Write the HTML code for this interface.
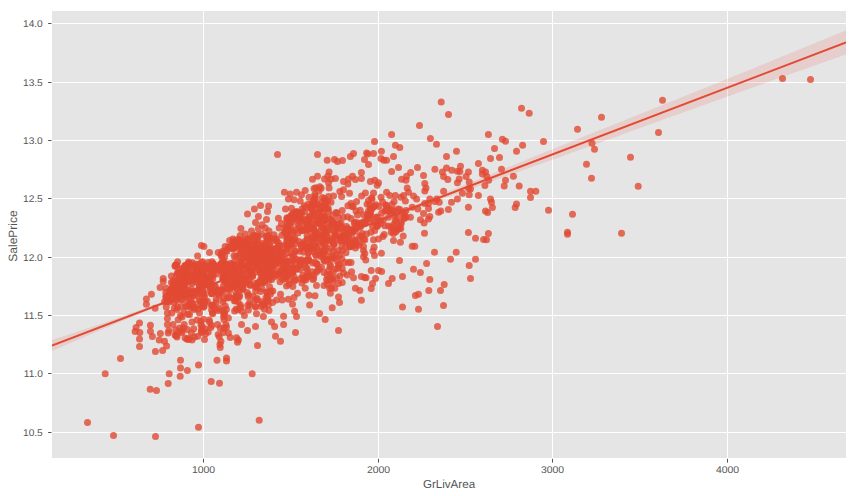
<!DOCTYPE html>
<html><head><meta charset="utf-8"><title>regplot</title>
<style>
html,body{margin:0;padding:0;background:#fff;}
body{width:856px;height:496px;overflow:hidden;font-family:"Liberation Sans",sans-serif;}
svg{display:block}
text{text-rendering:geometricPrecision;font-family:"Liberation Sans",sans-serif;fill:#555}
.t{font-size:9.8px}
.ty{font-size:9.8px}
.ly{font-size:12px}
.l{font-size:11.6px}
.g{stroke:#fff;stroke-width:1}
.k{stroke:#555;stroke-width:1}
</style></head><body>
<svg width="856" height="496" viewBox="0 0 856 496">
<rect x="0" y="0" width="856" height="496" fill="#fff"/>
<rect x="52.0" y="11.0" width="794.0" height="447.0" fill="#e5e5e5"/>
<clipPath id="c"><rect x="52" y="11" width="794" height="447"/></clipPath>
<g class="g"><line x1="203.50" y1="11.0" x2="203.50" y2="458.0"/><line x1="378.50" y1="11.0" x2="378.50" y2="458.0"/><line x1="552.50" y1="11.0" x2="552.50" y2="458.0"/><line x1="727.50" y1="11.0" x2="727.50" y2="458.0"/><line x1="52.0" y1="432.50" x2="846.0" y2="432.50"/><line x1="52.0" y1="373.50" x2="846.0" y2="373.50"/><line x1="52.0" y1="315.50" x2="846.0" y2="315.50"/><line x1="52.0" y1="257.50" x2="846.0" y2="257.50"/><line x1="52.0" y1="198.50" x2="846.0" y2="198.50"/><line x1="52.0" y1="140.50" x2="846.0" y2="140.50"/><line x1="52.0" y1="82.50" x2="846.0" y2="82.50"/><line x1="52.0" y1="23.50" x2="846.0" y2="23.50"/></g>
<g class="k"><line x1="203.50" y1="458.8" x2="203.50" y2="462.6"/><line x1="378.50" y1="458.8" x2="378.50" y2="462.6"/><line x1="552.50" y1="458.8" x2="552.50" y2="462.6"/><line x1="727.50" y1="458.8" x2="727.50" y2="462.6"/><line x1="48.1" y1="432.50" x2="51.5" y2="432.50"/><line x1="48.1" y1="373.50" x2="51.5" y2="373.50"/><line x1="48.1" y1="315.50" x2="51.5" y2="315.50"/><line x1="48.1" y1="257.50" x2="51.5" y2="257.50"/><line x1="48.1" y1="198.50" x2="51.5" y2="198.50"/><line x1="48.1" y1="140.50" x2="51.5" y2="140.50"/><line x1="48.1" y1="82.50" x2="51.5" y2="82.50"/><line x1="48.1" y1="23.50" x2="51.5" y2="23.50"/></g>
<text class="t" transform="translate(203.50,472.8) scale(1.065,1)" text-anchor="middle">1000</text><text class="t" transform="translate(378.50,472.8) scale(1.065,1)" text-anchor="middle">2000</text><text class="t" transform="translate(552.50,472.8) scale(1.065,1)" text-anchor="middle">3000</text><text class="t" transform="translate(727.50,472.8) scale(1.065,1)" text-anchor="middle">4000</text><text class="ty" transform="translate(42.8,435.90) scale(1.04,1)" text-anchor="end">10.5</text><text class="ty" transform="translate(42.8,376.90) scale(1.04,1)" text-anchor="end">11.0</text><text class="ty" transform="translate(42.8,318.90) scale(1.04,1)" text-anchor="end">11.5</text><text class="ty" transform="translate(42.8,260.90) scale(1.04,1)" text-anchor="end">12.0</text><text class="ty" transform="translate(42.8,201.90) scale(1.04,1)" text-anchor="end">12.5</text><text class="ty" transform="translate(42.8,143.90) scale(1.04,1)" text-anchor="end">13.0</text><text class="ty" transform="translate(42.8,85.90) scale(1.04,1)" text-anchor="end">13.5</text><text class="ty" transform="translate(42.8,26.90) scale(1.04,1)" text-anchor="end">14.0</text>
<text class="l" x="449" y="488.2" text-anchor="middle">GrLivArea</text>
<text class="ly" transform="translate(16.5,236) rotate(-90)" text-anchor="middle">SalePrice</text>
<g clip-path="url(#c)"><g class="d" fill="#e24a33" fill-opacity="0.8"><circle cx="87.5" cy="422.5" r="3.5"/><circle cx="113.5" cy="435.5" r="3.5"/><circle cx="155.5" cy="436.5" r="3.5"/><circle cx="198.5" cy="427.2" r="3.5"/><circle cx="259.2" cy="420.2" r="3.5"/><circle cx="150.2" cy="389.2" r="3.5"/><circle cx="156.5" cy="390.5" r="3.5"/><circle cx="168.2" cy="383.5" r="3.5"/><circle cx="180.2" cy="376.2" r="3.5"/><circle cx="211.2" cy="381.5" r="3.5"/><circle cx="219.5" cy="383.2" r="3.5"/><circle cx="105.2" cy="373.8" r="3.5"/><circle cx="169.2" cy="373.8" r="3.5"/><circle cx="252.2" cy="373.8" r="3.5"/><circle cx="180.5" cy="315.6" r="3.5"/><circle cx="176.0" cy="335.6" r="3.5"/><circle cx="201.0" cy="325.0" r="3.5"/><circle cx="201.8" cy="330.0" r="3.5"/><circle cx="187.0" cy="339.0" r="3.5"/><circle cx="139.5" cy="323.1" r="3.5"/><circle cx="136.1" cy="327.5" r="3.5"/><circle cx="135.1" cy="331.6" r="3.5"/><circle cx="139.8" cy="332.5" r="3.5"/><circle cx="139.5" cy="339.0" r="3.5"/><circle cx="139.5" cy="346.6" r="3.5"/><circle cx="120.5" cy="358.4" r="3.5"/><circle cx="150.4" cy="325.2" r="3.5"/><circle cx="150.4" cy="331.2" r="3.5"/><circle cx="152.4" cy="336.5" r="3.5"/><circle cx="160.4" cy="333.4" r="3.5"/><circle cx="159.2" cy="340.0" r="3.5"/><circle cx="164.5" cy="341.2" r="3.5"/><circle cx="166.6" cy="345.9" r="3.5"/><circle cx="162.6" cy="350.4" r="3.5"/><circle cx="155.4" cy="351.5" r="3.5"/><circle cx="167.4" cy="313.1" r="3.5"/><circle cx="171.8" cy="313.1" r="3.5"/><circle cx="167.4" cy="318.5" r="3.5"/><circle cx="167.4" cy="324.4" r="3.5"/><circle cx="168.9" cy="330.6" r="3.5"/><circle cx="168.2" cy="332.9" r="3.5"/><circle cx="180.5" cy="360.2" r="3.5"/><circle cx="180.5" cy="368.1" r="3.5"/><circle cx="187.4" cy="370.6" r="3.5"/><circle cx="198.5" cy="365.0" r="3.5"/><circle cx="175.8" cy="330.0" r="3.5"/><circle cx="179.5" cy="328.1" r="3.5"/><circle cx="184.2" cy="324.4" r="3.5"/><circle cx="182.0" cy="332.5" r="3.5"/><circle cx="175.1" cy="335.0" r="3.5"/><circle cx="177.0" cy="336.9" r="3.5"/><circle cx="185.1" cy="338.1" r="3.5"/><circle cx="188.2" cy="339.4" r="3.5"/><circle cx="192.0" cy="340.0" r="3.5"/><circle cx="194.5" cy="336.9" r="3.5"/><circle cx="191.4" cy="333.1" r="3.5"/><circle cx="192.0" cy="322.1" r="3.5"/><circle cx="197.0" cy="320.0" r="3.5"/><circle cx="200.8" cy="321.2" r="3.5"/><circle cx="202.0" cy="326.2" r="3.5"/><circle cx="201.4" cy="332.5" r="3.5"/><circle cx="204.5" cy="339.4" r="3.5"/><circle cx="205.1" cy="328.8" r="3.5"/><circle cx="209.5" cy="321.9" r="3.5"/><circle cx="210.8" cy="327.5" r="3.5"/><circle cx="208.2" cy="331.9" r="3.5"/><circle cx="182.0" cy="316.9" r="3.5"/><circle cx="183.9" cy="311.9" r="3.5"/><circle cx="189.5" cy="314.4" r="3.5"/><circle cx="199.5" cy="313.1" r="3.5"/><circle cx="212.6" cy="313.8" r="3.5"/><circle cx="217.6" cy="324.4" r="3.5"/><circle cx="218.2" cy="334.4" r="3.5"/><circle cx="217.0" cy="360.2" r="3.5"/><circle cx="155.1" cy="308.2" r="3.5"/><circle cx="224.6" cy="312.8" r="3.5"/><circle cx="222.5" cy="311.0" r="3.5"/><circle cx="228.4" cy="318.1" r="3.5"/><circle cx="224.0" cy="319.4" r="3.5"/><circle cx="225.9" cy="324.4" r="3.5"/><circle cx="226.5" cy="326.9" r="3.5"/><circle cx="220.2" cy="328.1" r="3.5"/><circle cx="223.4" cy="332.5" r="3.5"/><circle cx="228.4" cy="333.1" r="3.5"/><circle cx="230.2" cy="337.5" r="3.5"/><circle cx="220.9" cy="341.2" r="3.5"/><circle cx="220.2" cy="347.5" r="3.5"/><circle cx="234.6" cy="311.0" r="3.5"/><circle cx="242.1" cy="311.2" r="3.5"/><circle cx="244.4" cy="315.6" r="3.5"/><circle cx="248.4" cy="310.0" r="3.5"/><circle cx="241.5" cy="324.4" r="3.5"/><circle cx="247.5" cy="330.4" r="3.5"/><circle cx="255.5" cy="326.5" r="3.5"/><circle cx="256.5" cy="313.8" r="3.5"/><circle cx="263.4" cy="316.5" r="3.5"/><circle cx="236.5" cy="337.8" r="3.5"/><circle cx="238.4" cy="340.0" r="3.5"/><circle cx="237.5" cy="342.2" r="3.5"/><circle cx="257.5" cy="345.4" r="3.5"/><circle cx="226.5" cy="358.1" r="3.5"/><circle cx="226.5" cy="361.0" r="3.5"/><circle cx="271.5" cy="322.1" r="3.5"/><circle cx="274.6" cy="326.5" r="3.5"/><circle cx="283.6" cy="316.2" r="3.5"/><circle cx="283.6" cy="324.4" r="3.5"/><circle cx="275.5" cy="336.2" r="3.5"/><circle cx="280.5" cy="341.2" r="3.5"/><circle cx="295.5" cy="332.5" r="3.5"/><circle cx="296.5" cy="316.5" r="3.5"/><circle cx="294.6" cy="311.2" r="3.5"/><circle cx="269.0" cy="310.6" r="3.5"/><circle cx="319.6" cy="313.5" r="3.5"/><circle cx="325.2" cy="319.4" r="3.5"/><circle cx="338.5" cy="330.4" r="3.5"/><circle cx="434.5" cy="252.2" r="3.5"/><circle cx="456.2" cy="252.2" r="3.5"/><circle cx="450.5" cy="259.2" r="3.5"/><circle cx="475.5" cy="259.2" r="3.5"/><circle cx="469.2" cy="265.5" r="3.5"/><circle cx="429.8" cy="279.5" r="3.5"/><circle cx="470.5" cy="278.5" r="3.5"/><circle cx="444.2" cy="284.5" r="3.5"/><circle cx="440.5" cy="290.5" r="3.5"/><circle cx="428.8" cy="290.5" r="3.5"/><circle cx="443.5" cy="305.5" r="3.5"/><circle cx="437.5" cy="326.5" r="3.5"/><circle cx="151.4" cy="294.2" r="3.5"/><circle cx="146.4" cy="299.0" r="3.5"/><circle cx="146.4" cy="304.2" r="3.5"/><circle cx="160.1" cy="287.4" r="3.5"/><circle cx="163.2" cy="278.6" r="3.5"/><circle cx="163.2" cy="281.5" r="3.5"/><circle cx="165.8" cy="288.0" r="3.5"/><circle cx="165.8" cy="292.4" r="3.5"/><circle cx="171.4" cy="276.1" r="3.5"/><circle cx="171.4" cy="282.4" r="3.5"/><circle cx="177.6" cy="261.8" r="3.5"/><circle cx="177.6" cy="267.4" r="3.5"/><circle cx="177.6" cy="273.0" r="3.5"/><circle cx="188.5" cy="262.0" r="3.5"/><circle cx="185.1" cy="266.1" r="3.5"/><circle cx="188.9" cy="268.0" r="3.5"/><circle cx="197.6" cy="256.1" r="3.5"/><circle cx="196.4" cy="264.2" r="3.5"/><circle cx="202.6" cy="261.8" r="3.5"/><circle cx="209.5" cy="252.4" r="3.5"/><circle cx="218.2" cy="252.4" r="3.5"/><circle cx="208.2" cy="262.4" r="3.5"/><circle cx="212.0" cy="261.8" r="3.5"/><circle cx="164.5" cy="301.8" r="3.5"/><circle cx="167.0" cy="298.0" r="3.5"/><circle cx="309.6" cy="304.9" r="3.5"/><circle cx="309.0" cy="295.2" r="3.5"/><circle cx="315.0" cy="295.8" r="3.5"/><circle cx="305.2" cy="288.2" r="3.5"/><circle cx="316.5" cy="285.5" r="3.5"/><circle cx="324.0" cy="285.5" r="3.5"/><circle cx="297.5" cy="293.2" r="3.5"/><circle cx="294.0" cy="297.4" r="3.5"/><circle cx="288.4" cy="299.2" r="3.5"/><circle cx="292.5" cy="304.2" r="3.5"/><circle cx="282.1" cy="299.9" r="3.5"/><circle cx="276.5" cy="299.9" r="3.5"/><circle cx="272.5" cy="302.4" r="3.5"/><circle cx="280.5" cy="294.2" r="3.5"/><circle cx="272.8" cy="291.1" r="3.5"/><circle cx="292.8" cy="286.5" r="3.5"/><circle cx="286.5" cy="286.1" r="3.5"/><circle cx="289.0" cy="284.2" r="3.5"/><circle cx="280.0" cy="281.8" r="3.5"/><circle cx="277.1" cy="274.2" r="3.5"/><circle cx="294.0" cy="276.8" r="3.5"/><circle cx="304.0" cy="279.9" r="3.5"/><circle cx="306.5" cy="276.8" r="3.5"/><circle cx="314.0" cy="274.9" r="3.5"/><circle cx="317.8" cy="269.9" r="3.5"/><circle cx="324.0" cy="272.4" r="3.5"/><circle cx="312.8" cy="263.0" r="3.5"/><circle cx="306.5" cy="259.9" r="3.5"/><circle cx="324.0" cy="259.2" r="3.5"/><circle cx="222.8" cy="301.8" r="3.5"/><circle cx="225.2" cy="306.1" r="3.5"/><circle cx="234.6" cy="298.0" r="3.5"/><circle cx="399.5" cy="260.5" r="3.5"/><circle cx="426.6" cy="263.4" r="3.5"/><circle cx="413.5" cy="269.2" r="3.5"/><circle cx="420.4" cy="272.4" r="3.5"/><circle cx="402.5" cy="276.5" r="3.5"/><circle cx="392.2" cy="278.4" r="3.5"/><circle cx="388.5" cy="283.4" r="3.5"/><circle cx="418.5" cy="294.2" r="3.5"/><circle cx="415.4" cy="295.5" r="3.5"/><circle cx="402.5" cy="307.0" r="3.5"/><circle cx="418.5" cy="309.2" r="3.5"/><circle cx="381.4" cy="253.2" r="3.5"/><circle cx="374.5" cy="255.5" r="3.5"/><circle cx="372.9" cy="251.1" r="3.5"/><circle cx="363.5" cy="250.5" r="3.5"/><circle cx="364.8" cy="253.6" r="3.5"/><circle cx="363.5" cy="256.8" r="3.5"/><circle cx="365.8" cy="259.9" r="3.5"/><circle cx="355.4" cy="248.0" r="3.5"/><circle cx="371.2" cy="270.5" r="3.5"/><circle cx="378.5" cy="270.5" r="3.5"/><circle cx="381.6" cy="271.5" r="3.5"/><circle cx="375.6" cy="278.4" r="3.5"/><circle cx="372.5" cy="283.4" r="3.5"/><circle cx="371.2" cy="288.6" r="3.5"/><circle cx="361.4" cy="276.5" r="3.5"/><circle cx="364.8" cy="277.4" r="3.5"/><circle cx="366.0" cy="277.8" r="3.5"/><circle cx="355.4" cy="288.2" r="3.5"/><circle cx="359.8" cy="290.5" r="3.5"/><circle cx="361.4" cy="300.2" r="3.5"/><circle cx="346.0" cy="252.8" r="3.5"/><circle cx="342.2" cy="250.5" r="3.5"/><circle cx="338.5" cy="250.5" r="3.5"/><circle cx="333.5" cy="251.1" r="3.5"/><circle cx="328.5" cy="251.8" r="3.5"/><circle cx="339.8" cy="255.5" r="3.5"/><circle cx="334.8" cy="258.0" r="3.5"/><circle cx="331.0" cy="259.2" r="3.5"/><circle cx="337.2" cy="261.1" r="3.5"/><circle cx="344.8" cy="262.4" r="3.5"/><circle cx="348.5" cy="262.4" r="3.5"/><circle cx="351.0" cy="262.4" r="3.5"/><circle cx="330.4" cy="264.9" r="3.5"/><circle cx="342.2" cy="268.6" r="3.5"/><circle cx="351.6" cy="271.8" r="3.5"/><circle cx="353.5" cy="277.8" r="3.5"/><circle cx="347.2" cy="274.9" r="3.5"/><circle cx="343.5" cy="273.0" r="3.5"/><circle cx="339.8" cy="276.1" r="3.5"/><circle cx="336.6" cy="278.0" r="3.5"/><circle cx="342.2" cy="282.4" r="3.5"/><circle cx="338.5" cy="283.6" r="3.5"/><circle cx="328.5" cy="270.5" r="3.5"/><circle cx="327.2" cy="274.9" r="3.5"/><circle cx="330.4" cy="274.2" r="3.5"/><circle cx="327.9" cy="280.5" r="3.5"/><circle cx="327.2" cy="284.2" r="3.5"/><circle cx="331.6" cy="288.0" r="3.5"/><circle cx="334.8" cy="288.2" r="3.5"/><circle cx="330.4" cy="293.2" r="3.5"/><circle cx="338.5" cy="297.0" r="3.5"/><circle cx="339.5" cy="302.4" r="3.5"/><circle cx="332.2" cy="307.8" r="3.5"/><circle cx="201.4" cy="245.4" r="3.5"/><circle cx="203.9" cy="246.6" r="3.5"/><circle cx="247.5" cy="214.1" r="3.5"/><circle cx="254.4" cy="209.1" r="3.5"/><circle cx="260.5" cy="205.4" r="3.5"/><circle cx="268.6" cy="206.0" r="3.5"/><circle cx="267.5" cy="211.6" r="3.5"/><circle cx="258.4" cy="216.4" r="3.5"/><circle cx="266.5" cy="219.5" r="3.5"/><circle cx="255.5" cy="222.5" r="3.5"/><circle cx="262.1" cy="224.8" r="3.5"/><circle cx="258.4" cy="228.5" r="3.5"/><circle cx="265.2" cy="227.9" r="3.5"/><circle cx="269.0" cy="231.0" r="3.5"/><circle cx="251.5" cy="231.0" r="3.5"/><circle cx="240.9" cy="228.5" r="3.5"/><circle cx="240.2" cy="235.4" r="3.5"/><circle cx="245.2" cy="234.1" r="3.5"/><circle cx="229.6" cy="240.4" r="3.5"/><circle cx="232.8" cy="239.1" r="3.5"/><circle cx="225.2" cy="246.6" r="3.5"/><circle cx="278.4" cy="218.2" r="3.5"/><circle cx="281.5" cy="223.5" r="3.5"/><circle cx="279.2" cy="227.9" r="3.5"/><circle cx="285.2" cy="232.2" r="3.5"/><circle cx="274.0" cy="234.8" r="3.5"/><circle cx="284.4" cy="192.2" r="3.5"/><circle cx="290.2" cy="194.1" r="3.5"/><circle cx="296.5" cy="192.2" r="3.5"/><circle cx="288.4" cy="199.1" r="3.5"/><circle cx="294.0" cy="199.8" r="3.5"/><circle cx="301.5" cy="194.8" r="3.5"/><circle cx="305.2" cy="190.4" r="3.5"/><circle cx="300.2" cy="201.0" r="3.5"/><circle cx="285.5" cy="209.1" r="3.5"/><circle cx="291.5" cy="208.2" r="3.5"/><circle cx="302.1" cy="209.1" r="3.5"/><circle cx="296.5" cy="211.6" r="3.5"/><circle cx="314.0" cy="188.5" r="3.5"/><circle cx="319.0" cy="191.0" r="3.5"/><circle cx="315.2" cy="196.0" r="3.5"/><circle cx="309.0" cy="197.2" r="3.5"/><circle cx="308.4" cy="204.1" r="3.5"/><circle cx="324.6" cy="198.5" r="3.5"/><circle cx="364.8" cy="223.5" r="3.5"/><circle cx="367.2" cy="219.8" r="3.5"/><circle cx="369.1" cy="216.0" r="3.5"/><circle cx="370.4" cy="212.2" r="3.5"/><circle cx="372.2" cy="208.5" r="3.5"/><circle cx="374.1" cy="206.0" r="3.5"/><circle cx="366.0" cy="221.6" r="3.5"/><circle cx="369.8" cy="214.1" r="3.5"/><circle cx="391.0" cy="227.2" r="3.5"/><circle cx="396.0" cy="229.8" r="3.5"/><circle cx="398.5" cy="227.2" r="3.5"/><circle cx="393.5" cy="224.8" r="3.5"/><circle cx="384.8" cy="211.0" r="3.5"/><circle cx="391.0" cy="212.9" r="3.5"/><circle cx="394.8" cy="215.4" r="3.5"/><circle cx="388.5" cy="217.2" r="3.5"/><circle cx="383.5" cy="219.8" r="3.5"/><circle cx="381.0" cy="223.5" r="3.5"/><circle cx="329.1" cy="187.9" r="3.5"/><circle cx="339.8" cy="191.6" r="3.5"/><circle cx="343.5" cy="189.8" r="3.5"/><circle cx="349.5" cy="193.2" r="3.5"/><circle cx="341.6" cy="196.6" r="3.5"/><circle cx="333.5" cy="196.0" r="3.5"/><circle cx="328.5" cy="196.6" r="3.5"/><circle cx="331.0" cy="202.2" r="3.5"/><circle cx="327.9" cy="201.0" r="3.5"/><circle cx="361.6" cy="196.0" r="3.5"/><circle cx="365.4" cy="192.9" r="3.5"/><circle cx="373.5" cy="192.9" r="3.5"/><circle cx="371.6" cy="197.9" r="3.5"/><circle cx="368.5" cy="200.4" r="3.5"/><circle cx="356.6" cy="201.6" r="3.5"/><circle cx="351.0" cy="203.5" r="3.5"/><circle cx="352.2" cy="206.6" r="3.5"/><circle cx="381.0" cy="197.2" r="3.5"/><circle cx="386.6" cy="192.2" r="3.5"/><circle cx="389.8" cy="195.4" r="3.5"/><circle cx="395.4" cy="195.4" r="3.5"/><circle cx="394.1" cy="201.6" r="3.5"/><circle cx="401.0" cy="197.2" r="3.5"/><circle cx="403.5" cy="195.4" r="3.5"/><circle cx="405.4" cy="201.0" r="3.5"/><circle cx="407.2" cy="187.9" r="3.5"/><circle cx="408.5" cy="192.2" r="3.5"/><circle cx="413.5" cy="196.0" r="3.5"/><circle cx="416.6" cy="199.1" r="3.5"/><circle cx="424.8" cy="191.0" r="3.5"/><circle cx="426.0" cy="187.9" r="3.5"/><circle cx="429.8" cy="199.1" r="3.5"/><circle cx="386.0" cy="205.4" r="3.5"/><circle cx="388.5" cy="208.5" r="3.5"/><circle cx="381.6" cy="212.9" r="3.5"/><circle cx="394.1" cy="211.0" r="3.5"/><circle cx="397.9" cy="209.1" r="3.5"/><circle cx="402.2" cy="212.2" r="3.5"/><circle cx="406.0" cy="210.4" r="3.5"/><circle cx="412.2" cy="207.2" r="3.5"/><circle cx="417.9" cy="209.1" r="3.5"/><circle cx="424.8" cy="203.5" r="3.5"/><circle cx="428.5" cy="203.5" r="3.5"/><circle cx="428.5" cy="208.5" r="3.5"/><circle cx="423.5" cy="213.5" r="3.5"/><circle cx="429.8" cy="216.6" r="3.5"/><circle cx="420.4" cy="219.8" r="3.5"/><circle cx="424.1" cy="222.9" r="3.5"/><circle cx="428.5" cy="219.1" r="3.5"/><circle cx="406.0" cy="217.2" r="3.5"/><circle cx="410.4" cy="217.2" r="3.5"/><circle cx="401.0" cy="224.1" r="3.5"/><circle cx="396.0" cy="222.2" r="3.5"/><circle cx="369.8" cy="204.8" r="3.5"/><circle cx="376.0" cy="204.8" r="3.5"/><circle cx="368.5" cy="211.0" r="3.5"/><circle cx="371.0" cy="208.5" r="3.5"/><circle cx="363.5" cy="214.8" r="3.5"/><circle cx="367.2" cy="216.0" r="3.5"/><circle cx="376.0" cy="217.2" r="3.5"/><circle cx="379.8" cy="221.0" r="3.5"/><circle cx="373.5" cy="222.2" r="3.5"/><circle cx="356.0" cy="211.0" r="3.5"/><circle cx="351.0" cy="218.5" r="3.5"/><circle cx="354.8" cy="222.2" r="3.5"/><circle cx="342.2" cy="210.4" r="3.5"/><circle cx="337.2" cy="212.9" r="3.5"/><circle cx="338.5" cy="217.2" r="3.5"/><circle cx="343.5" cy="217.2" r="3.5"/><circle cx="328.5" cy="211.6" r="3.5"/><circle cx="327.9" cy="217.9" r="3.5"/><circle cx="332.2" cy="220.4" r="3.5"/><circle cx="388.5" cy="226.0" r="3.5"/><circle cx="393.5" cy="228.5" r="3.5"/><circle cx="397.2" cy="229.8" r="3.5"/><circle cx="393.5" cy="233.5" r="3.5"/><circle cx="403.2" cy="236.0" r="3.5"/><circle cx="393.5" cy="240.4" r="3.5"/><circle cx="400.4" cy="242.2" r="3.5"/><circle cx="412.2" cy="246.2" r="3.5"/><circle cx="414.8" cy="246.2" r="3.5"/><circle cx="424.5" cy="233.2" r="3.5"/><circle cx="374.8" cy="230.4" r="3.5"/><circle cx="371.0" cy="232.2" r="3.5"/><circle cx="382.9" cy="236.6" r="3.5"/><circle cx="378.5" cy="239.1" r="3.5"/><circle cx="373.5" cy="239.8" r="3.5"/><circle cx="363.5" cy="246.6" r="3.5"/><circle cx="374.1" cy="247.2" r="3.5"/><circle cx="364.8" cy="239.8" r="3.5"/><circle cx="443.6" cy="191.2" r="3.5"/><circle cx="436.8" cy="199.1" r="3.5"/><circle cx="434.9" cy="201.6" r="3.5"/><circle cx="439.2" cy="202.2" r="3.5"/><circle cx="451.5" cy="202.2" r="3.5"/><circle cx="457.4" cy="199.1" r="3.5"/><circle cx="462.4" cy="193.2" r="3.5"/><circle cx="469.2" cy="194.8" r="3.5"/><circle cx="470.5" cy="189.1" r="3.5"/><circle cx="468.6" cy="188.5" r="3.5"/><circle cx="478.4" cy="195.4" r="3.5"/><circle cx="484.9" cy="185.4" r="3.5"/><circle cx="504.2" cy="186.0" r="3.5"/><circle cx="519.2" cy="186.0" r="3.5"/><circle cx="530.5" cy="191.2" r="3.5"/><circle cx="535.8" cy="191.2" r="3.5"/><circle cx="530.5" cy="197.5" r="3.5"/><circle cx="438.6" cy="212.2" r="3.5"/><circle cx="440.8" cy="211.0" r="3.5"/><circle cx="448.4" cy="209.4" r="3.5"/><circle cx="468.4" cy="207.2" r="3.5"/><circle cx="490.5" cy="199.1" r="3.5"/><circle cx="491.5" cy="202.2" r="3.5"/><circle cx="492.4" cy="207.5" r="3.5"/><circle cx="485.5" cy="211.0" r="3.5"/><circle cx="487.6" cy="212.5" r="3.5"/><circle cx="516.5" cy="204.1" r="3.5"/><circle cx="515.2" cy="207.5" r="3.5"/><circle cx="468.4" cy="232.5" r="3.5"/><circle cx="475.5" cy="238.2" r="3.5"/><circle cx="483.6" cy="239.5" r="3.5"/><circle cx="486.5" cy="239.8" r="3.5"/><circle cx="488.4" cy="233.5" r="3.5"/><circle cx="277.5" cy="154.4" r="3.5"/><circle cx="317.5" cy="154.4" r="3.5"/><circle cx="312.5" cy="179.2" r="3.5"/><circle cx="317.5" cy="176.2" r="3.5"/><circle cx="324.6" cy="179.0" r="3.5"/><circle cx="419.5" cy="125.5" r="3.5"/><circle cx="391.6" cy="134.4" r="3.5"/><circle cx="430.4" cy="138.4" r="3.5"/><circle cx="374.5" cy="141.5" r="3.5"/><circle cx="395.4" cy="145.2" r="3.5"/><circle cx="399.8" cy="147.5" r="3.5"/><circle cx="381.4" cy="151.2" r="3.5"/><circle cx="373.5" cy="153.4" r="3.5"/><circle cx="366.6" cy="153.0" r="3.5"/><circle cx="367.9" cy="154.0" r="3.5"/><circle cx="353.5" cy="153.4" r="3.5"/><circle cx="350.4" cy="156.5" r="3.5"/><circle cx="364.5" cy="159.6" r="3.5"/><circle cx="368.5" cy="164.6" r="3.5"/><circle cx="393.5" cy="156.5" r="3.5"/><circle cx="381.0" cy="158.4" r="3.5"/><circle cx="383.8" cy="160.2" r="3.5"/><circle cx="386.6" cy="160.2" r="3.5"/><circle cx="334.5" cy="159.4" r="3.5"/><circle cx="337.5" cy="161.5" r="3.5"/><circle cx="342.5" cy="160.5" r="3.5"/><circle cx="327.2" cy="160.2" r="3.5"/><circle cx="398.5" cy="167.5" r="3.5"/><circle cx="391.6" cy="171.5" r="3.5"/><circle cx="417.5" cy="167.5" r="3.5"/><circle cx="410.6" cy="172.5" r="3.5"/><circle cx="406.6" cy="176.2" r="3.5"/><circle cx="401.6" cy="179.2" r="3.5"/><circle cx="406.0" cy="180.2" r="3.5"/><circle cx="423.5" cy="175.5" r="3.5"/><circle cx="424.8" cy="183.4" r="3.5"/><circle cx="361.4" cy="172.4" r="3.5"/><circle cx="361.4" cy="178.4" r="3.5"/><circle cx="352.5" cy="176.2" r="3.5"/><circle cx="355.4" cy="179.6" r="3.5"/><circle cx="348.5" cy="179.0" r="3.5"/><circle cx="343.5" cy="181.5" r="3.5"/><circle cx="347.9" cy="184.0" r="3.5"/><circle cx="329.1" cy="172.1" r="3.5"/><circle cx="327.9" cy="175.9" r="3.5"/><circle cx="331.0" cy="179.0" r="3.5"/><circle cx="335.4" cy="178.4" r="3.5"/><circle cx="328.5" cy="182.8" r="3.5"/><circle cx="370.4" cy="181.5" r="3.5"/><circle cx="374.8" cy="180.2" r="3.5"/><circle cx="378.5" cy="182.8" r="3.5"/><circle cx="377.2" cy="185.2" r="3.5"/><circle cx="488.4" cy="134.4" r="3.5"/><circle cx="502.4" cy="139.2" r="3.5"/><circle cx="505.5" cy="141.2" r="3.5"/><circle cx="522.6" cy="145.2" r="3.5"/><circle cx="516.5" cy="151.2" r="3.5"/><circle cx="494.5" cy="148.4" r="3.5"/><circle cx="490.5" cy="158.4" r="3.5"/><circle cx="499.5" cy="157.5" r="3.5"/><circle cx="436.5" cy="144.2" r="3.5"/><circle cx="456.5" cy="151.2" r="3.5"/><circle cx="446.5" cy="156.5" r="3.5"/><circle cx="478.4" cy="163.4" r="3.5"/><circle cx="501.5" cy="169.2" r="3.5"/><circle cx="513.4" cy="176.2" r="3.5"/><circle cx="505.5" cy="180.2" r="3.5"/><circle cx="434.9" cy="169.2" r="3.5"/><circle cx="446.5" cy="168.0" r="3.5"/><circle cx="442.4" cy="172.1" r="3.5"/><circle cx="451.8" cy="170.2" r="3.5"/><circle cx="443.6" cy="176.5" r="3.5"/><circle cx="447.8" cy="179.6" r="3.5"/><circle cx="460.5" cy="166.2" r="3.5"/><circle cx="457.4" cy="171.2" r="3.5"/><circle cx="459.9" cy="171.5" r="3.5"/><circle cx="468.4" cy="172.1" r="3.5"/><circle cx="466.1" cy="176.5" r="3.5"/><circle cx="459.2" cy="179.0" r="3.5"/><circle cx="457.4" cy="182.8" r="3.5"/><circle cx="469.2" cy="182.1" r="3.5"/><circle cx="482.4" cy="170.2" r="3.5"/><circle cx="485.5" cy="172.1" r="3.5"/><circle cx="482.4" cy="174.0" r="3.5"/><circle cx="486.8" cy="176.5" r="3.5"/><circle cx="488.6" cy="180.2" r="3.5"/><circle cx="441.2" cy="102.0" r="3.5"/><circle cx="448.5" cy="114.5" r="3.5"/><circle cx="521.5" cy="108.2" r="3.5"/><circle cx="529.2" cy="113.2" r="3.5"/><circle cx="662.5" cy="100.2" r="3.5"/><circle cx="601.5" cy="117.2" r="3.5"/><circle cx="577.5" cy="129.2" r="3.5"/><circle cx="543.5" cy="141.5" r="3.5"/><circle cx="592.0" cy="143.2" r="3.5"/><circle cx="594.5" cy="149.2" r="3.5"/><circle cx="658.5" cy="132.5" r="3.5"/><circle cx="630.5" cy="157.2" r="3.5"/><circle cx="586.5" cy="164.2" r="3.5"/><circle cx="591.5" cy="178.2" r="3.5"/><circle cx="638.2" cy="186.2" r="3.5"/><circle cx="548.5" cy="210.2" r="3.5"/><circle cx="572.5" cy="214.2" r="3.5"/><circle cx="567.5" cy="232.2" r="3.5"/><circle cx="567.5" cy="234.2" r="3.5"/><circle cx="621.5" cy="233.2" r="3.5"/><circle cx="782.5" cy="78.5" r="3.5"/><circle cx="810.5" cy="79.5" r="3.5"/><circle cx="211.4" cy="284.5" r="3.5"/><circle cx="198.6" cy="283.4" r="3.5"/><circle cx="239.7" cy="244.2" r="3.5"/><circle cx="252.3" cy="271.6" r="3.5"/><circle cx="210.7" cy="277.5" r="3.5"/><circle cx="249.0" cy="258.9" r="3.5"/><circle cx="241.3" cy="261.0" r="3.5"/><circle cx="228.6" cy="247.1" r="3.5"/><circle cx="216.9" cy="268.1" r="3.5"/><circle cx="207.1" cy="268.5" r="3.5"/><circle cx="269.8" cy="270.7" r="3.5"/><circle cx="221.5" cy="263.4" r="3.5"/><circle cx="263.9" cy="279.8" r="3.5"/><circle cx="261.1" cy="281.6" r="3.5"/><circle cx="175.9" cy="265.1" r="3.5"/><circle cx="167.1" cy="297.0" r="3.5"/><circle cx="259.9" cy="271.3" r="3.5"/><circle cx="183.0" cy="279.0" r="3.5"/><circle cx="223.4" cy="279.7" r="3.5"/><circle cx="258.7" cy="282.4" r="3.5"/><circle cx="193.1" cy="270.9" r="3.5"/><circle cx="270.2" cy="246.2" r="3.5"/><circle cx="270.0" cy="237.8" r="3.5"/><circle cx="257.4" cy="249.4" r="3.5"/><circle cx="236.7" cy="281.8" r="3.5"/><circle cx="265.0" cy="280.0" r="3.5"/><circle cx="247.4" cy="249.3" r="3.5"/><circle cx="184.2" cy="280.7" r="3.5"/><circle cx="201.2" cy="281.9" r="3.5"/><circle cx="271.9" cy="241.0" r="3.5"/><circle cx="264.5" cy="282.5" r="3.5"/><circle cx="180.7" cy="284.5" r="3.5"/><circle cx="272.8" cy="267.4" r="3.5"/><circle cx="271.8" cy="266.6" r="3.5"/><circle cx="179.0" cy="292.9" r="3.5"/><circle cx="244.6" cy="257.2" r="3.5"/><circle cx="225.9" cy="280.2" r="3.5"/><circle cx="249.8" cy="252.3" r="3.5"/><circle cx="226.6" cy="277.8" r="3.5"/><circle cx="265.3" cy="245.8" r="3.5"/><circle cx="221.1" cy="271.0" r="3.5"/><circle cx="181.6" cy="273.3" r="3.5"/><circle cx="181.0" cy="293.8" r="3.5"/><circle cx="227.6" cy="271.7" r="3.5"/><circle cx="240.5" cy="244.0" r="3.5"/><circle cx="172.5" cy="295.8" r="3.5"/><circle cx="234.6" cy="282.0" r="3.5"/><circle cx="173.8" cy="287.5" r="3.5"/><circle cx="171.9" cy="288.1" r="3.5"/><circle cx="245.5" cy="256.7" r="3.5"/><circle cx="255.0" cy="244.6" r="3.5"/><circle cx="202.4" cy="285.1" r="3.5"/><circle cx="242.6" cy="265.2" r="3.5"/><circle cx="173.8" cy="286.0" r="3.5"/><circle cx="260.7" cy="268.7" r="3.5"/><circle cx="272.0" cy="256.3" r="3.5"/><circle cx="247.4" cy="267.4" r="3.5"/><circle cx="244.5" cy="266.0" r="3.5"/><circle cx="263.1" cy="264.4" r="3.5"/><circle cx="245.6" cy="283.0" r="3.5"/><circle cx="240.0" cy="271.0" r="3.5"/><circle cx="176.1" cy="285.4" r="3.5"/><circle cx="226.2" cy="264.4" r="3.5"/><circle cx="233.7" cy="269.7" r="3.5"/><circle cx="252.6" cy="276.6" r="3.5"/><circle cx="217.4" cy="270.1" r="3.5"/><circle cx="249.3" cy="263.3" r="3.5"/><circle cx="238.8" cy="270.9" r="3.5"/><circle cx="255.1" cy="252.4" r="3.5"/><circle cx="262.5" cy="272.0" r="3.5"/><circle cx="190.1" cy="291.7" r="3.5"/><circle cx="199.4" cy="285.9" r="3.5"/><circle cx="266.9" cy="273.0" r="3.5"/><circle cx="274.9" cy="260.5" r="3.5"/><circle cx="175.7" cy="285.3" r="3.5"/><circle cx="262.2" cy="283.0" r="3.5"/><circle cx="268.4" cy="256.5" r="3.5"/><circle cx="245.4" cy="246.5" r="3.5"/><circle cx="247.7" cy="266.1" r="3.5"/><circle cx="197.4" cy="275.6" r="3.5"/><circle cx="187.5" cy="292.5" r="3.5"/><circle cx="247.3" cy="242.7" r="3.5"/><circle cx="220.1" cy="264.6" r="3.5"/><circle cx="263.5" cy="248.8" r="3.5"/><circle cx="222.2" cy="269.9" r="3.5"/><circle cx="268.5" cy="273.9" r="3.5"/><circle cx="236.0" cy="278.2" r="3.5"/><circle cx="190.2" cy="293.9" r="3.5"/><circle cx="234.8" cy="271.6" r="3.5"/><circle cx="222.5" cy="259.9" r="3.5"/><circle cx="270.5" cy="266.1" r="3.5"/><circle cx="262.2" cy="249.0" r="3.5"/><circle cx="270.6" cy="272.2" r="3.5"/><circle cx="219.6" cy="269.1" r="3.5"/><circle cx="252.6" cy="275.7" r="3.5"/><circle cx="189.0" cy="277.8" r="3.5"/><circle cx="185.0" cy="295.5" r="3.5"/><circle cx="237.9" cy="239.2" r="3.5"/><circle cx="203.9" cy="284.0" r="3.5"/><circle cx="255.3" cy="244.7" r="3.5"/><circle cx="209.9" cy="283.0" r="3.5"/><circle cx="270.3" cy="263.3" r="3.5"/><circle cx="193.5" cy="273.4" r="3.5"/><circle cx="265.8" cy="265.0" r="3.5"/><circle cx="186.3" cy="277.0" r="3.5"/><circle cx="242.9" cy="246.1" r="3.5"/><circle cx="233.0" cy="269.1" r="3.5"/><circle cx="181.4" cy="290.3" r="3.5"/><circle cx="253.8" cy="267.0" r="3.5"/><circle cx="272.0" cy="259.9" r="3.5"/><circle cx="267.3" cy="238.6" r="3.5"/><circle cx="260.2" cy="246.4" r="3.5"/><circle cx="193.2" cy="279.6" r="3.5"/><circle cx="230.4" cy="263.6" r="3.5"/><circle cx="252.4" cy="256.4" r="3.5"/><circle cx="182.6" cy="271.2" r="3.5"/><circle cx="211.3" cy="283.9" r="3.5"/><circle cx="266.8" cy="240.2" r="3.5"/><circle cx="264.4" cy="263.7" r="3.5"/><circle cx="211.5" cy="267.5" r="3.5"/><circle cx="248.9" cy="279.8" r="3.5"/><circle cx="245.5" cy="279.5" r="3.5"/><circle cx="245.4" cy="283.3" r="3.5"/><circle cx="182.3" cy="295.6" r="3.5"/><circle cx="183.1" cy="280.3" r="3.5"/><circle cx="261.0" cy="257.1" r="3.5"/><circle cx="234.1" cy="240.8" r="3.5"/><circle cx="274.0" cy="259.3" r="3.5"/><circle cx="204.3" cy="278.2" r="3.5"/><circle cx="229.2" cy="268.0" r="3.5"/><circle cx="232.6" cy="244.7" r="3.5"/><circle cx="233.4" cy="249.0" r="3.5"/><circle cx="179.4" cy="295.6" r="3.5"/><circle cx="175.1" cy="265.5" r="3.5"/><circle cx="260.8" cy="280.0" r="3.5"/><circle cx="235.8" cy="245.8" r="3.5"/><circle cx="268.1" cy="275.1" r="3.5"/><circle cx="192.0" cy="292.3" r="3.5"/><circle cx="220.5" cy="265.8" r="3.5"/><circle cx="169.9" cy="290.8" r="3.5"/><circle cx="251.0" cy="273.3" r="3.5"/><circle cx="246.8" cy="248.0" r="3.5"/><circle cx="246.5" cy="246.7" r="3.5"/><circle cx="201.6" cy="276.7" r="3.5"/><circle cx="251.6" cy="253.8" r="3.5"/><circle cx="193.8" cy="265.8" r="3.5"/><circle cx="261.8" cy="234.2" r="3.5"/><circle cx="190.9" cy="292.7" r="3.5"/><circle cx="234.2" cy="271.0" r="3.5"/><circle cx="212.8" cy="274.2" r="3.5"/><circle cx="187.9" cy="263.9" r="3.5"/><circle cx="173.1" cy="293.0" r="3.5"/><circle cx="176.3" cy="294.8" r="3.5"/><circle cx="241.0" cy="265.0" r="3.5"/><circle cx="241.5" cy="275.4" r="3.5"/><circle cx="204.7" cy="283.6" r="3.5"/><circle cx="171.8" cy="288.6" r="3.5"/><circle cx="258.2" cy="283.0" r="3.5"/><circle cx="195.7" cy="273.3" r="3.5"/><circle cx="271.0" cy="251.9" r="3.5"/><circle cx="258.6" cy="263.4" r="3.5"/><circle cx="212.7" cy="279.1" r="3.5"/><circle cx="202.8" cy="272.2" r="3.5"/><circle cx="202.9" cy="285.0" r="3.5"/><circle cx="241.8" cy="251.3" r="3.5"/><circle cx="176.6" cy="265.3" r="3.5"/><circle cx="173.4" cy="280.6" r="3.5"/><circle cx="241.5" cy="280.5" r="3.5"/><circle cx="264.1" cy="251.6" r="3.5"/><circle cx="223.2" cy="277.2" r="3.5"/><circle cx="247.7" cy="266.3" r="3.5"/><circle cx="181.7" cy="286.2" r="3.5"/><circle cx="237.7" cy="275.9" r="3.5"/><circle cx="250.0" cy="259.5" r="3.5"/><circle cx="272.3" cy="274.6" r="3.5"/><circle cx="175.7" cy="298.2" r="3.5"/><circle cx="245.5" cy="244.9" r="3.5"/><circle cx="186.2" cy="265.4" r="3.5"/><circle cx="208.6" cy="280.9" r="3.5"/><circle cx="241.1" cy="251.5" r="3.5"/><circle cx="234.4" cy="247.8" r="3.5"/><circle cx="209.2" cy="275.8" r="3.5"/><circle cx="264.8" cy="244.4" r="3.5"/><circle cx="227.9" cy="276.7" r="3.5"/><circle cx="250.0" cy="271.7" r="3.5"/><circle cx="258.7" cy="269.6" r="3.5"/><circle cx="235.4" cy="246.8" r="3.5"/><circle cx="199.1" cy="264.5" r="3.5"/><circle cx="251.0" cy="273.0" r="3.5"/><circle cx="233.2" cy="242.3" r="3.5"/><circle cx="184.7" cy="267.1" r="3.5"/><circle cx="250.5" cy="240.3" r="3.5"/><circle cx="182.3" cy="280.0" r="3.5"/><circle cx="268.4" cy="253.4" r="3.5"/><circle cx="224.3" cy="273.4" r="3.5"/><circle cx="221.1" cy="265.6" r="3.5"/><circle cx="256.1" cy="253.7" r="3.5"/><circle cx="187.7" cy="270.1" r="3.5"/><circle cx="207.9" cy="278.0" r="3.5"/><circle cx="211.0" cy="271.5" r="3.5"/><circle cx="189.3" cy="275.9" r="3.5"/><circle cx="268.4" cy="254.2" r="3.5"/><circle cx="188.7" cy="282.0" r="3.5"/><circle cx="178.8" cy="279.4" r="3.5"/><circle cx="254.0" cy="265.1" r="3.5"/><circle cx="203.5" cy="265.5" r="3.5"/><circle cx="255.0" cy="283.4" r="3.5"/><circle cx="256.6" cy="236.8" r="3.5"/><circle cx="211.8" cy="265.4" r="3.5"/><circle cx="264.6" cy="280.2" r="3.5"/><circle cx="180.0" cy="285.0" r="3.5"/><circle cx="165.8" cy="297.1" r="3.5"/><circle cx="190.3" cy="279.4" r="3.5"/><circle cx="264.4" cy="281.0" r="3.5"/><circle cx="183.1" cy="291.0" r="3.5"/><circle cx="231.7" cy="279.9" r="3.5"/><circle cx="186.3" cy="271.0" r="3.5"/><circle cx="223.2" cy="275.9" r="3.5"/><circle cx="234.9" cy="265.2" r="3.5"/><circle cx="243.9" cy="264.2" r="3.5"/><circle cx="201.9" cy="288.0" r="3.5"/><circle cx="222.6" cy="278.8" r="3.5"/><circle cx="256.0" cy="241.8" r="3.5"/><circle cx="236.8" cy="281.0" r="3.5"/><circle cx="234.6" cy="280.2" r="3.5"/><circle cx="262.4" cy="256.1" r="3.5"/><circle cx="266.3" cy="262.5" r="3.5"/><circle cx="237.2" cy="280.7" r="3.5"/><circle cx="265.0" cy="262.8" r="3.5"/><circle cx="232.6" cy="264.3" r="3.5"/><circle cx="241.5" cy="261.2" r="3.5"/><circle cx="238.2" cy="247.2" r="3.5"/><circle cx="254.0" cy="259.1" r="3.5"/><circle cx="266.0" cy="246.1" r="3.5"/><circle cx="272.9" cy="249.0" r="3.5"/><circle cx="174.2" cy="288.8" r="3.5"/><circle cx="234.0" cy="272.6" r="3.5"/><circle cx="198.9" cy="274.7" r="3.5"/><circle cx="182.8" cy="288.0" r="3.5"/><circle cx="213.0" cy="269.4" r="3.5"/><circle cx="180.5" cy="281.5" r="3.5"/><circle cx="204.6" cy="266.1" r="3.5"/><circle cx="234.1" cy="243.2" r="3.5"/><circle cx="207.1" cy="280.4" r="3.5"/><circle cx="268.9" cy="280.2" r="3.5"/><circle cx="171.2" cy="299.4" r="3.5"/><circle cx="201.2" cy="262.2" r="3.5"/><circle cx="206.1" cy="270.2" r="3.5"/><circle cx="258.6" cy="282.5" r="3.5"/><circle cx="225.7" cy="281.5" r="3.5"/><circle cx="186.6" cy="276.8" r="3.5"/><circle cx="231.6" cy="269.4" r="3.5"/><circle cx="192.6" cy="276.9" r="3.5"/><circle cx="252.0" cy="247.4" r="3.5"/><circle cx="174.2" cy="282.5" r="3.5"/><circle cx="262.3" cy="253.7" r="3.5"/><circle cx="184.5" cy="271.8" r="3.5"/><circle cx="274.7" cy="238.8" r="3.5"/><circle cx="176.2" cy="264.9" r="3.5"/><circle cx="168.2" cy="301.0" r="3.5"/><circle cx="260.2" cy="250.1" r="3.5"/><circle cx="250.6" cy="244.0" r="3.5"/><circle cx="269.1" cy="278.5" r="3.5"/><circle cx="177.8" cy="297.9" r="3.5"/><circle cx="238.5" cy="240.7" r="3.5"/><circle cx="251.4" cy="272.7" r="3.5"/><circle cx="229.9" cy="277.5" r="3.5"/><circle cx="168.5" cy="294.7" r="3.5"/><circle cx="175.2" cy="294.8" r="3.5"/><circle cx="257.6" cy="264.5" r="3.5"/><circle cx="255.4" cy="249.2" r="3.5"/><circle cx="243.4" cy="256.9" r="3.5"/><circle cx="180.5" cy="288.9" r="3.5"/><circle cx="257.3" cy="234.8" r="3.5"/><circle cx="170.8" cy="291.4" r="3.5"/><circle cx="253.7" cy="235.4" r="3.5"/><circle cx="256.5" cy="254.2" r="3.5"/><circle cx="184.4" cy="278.8" r="3.5"/><circle cx="232.2" cy="272.5" r="3.5"/><circle cx="254.2" cy="259.9" r="3.5"/><circle cx="245.5" cy="242.2" r="3.5"/><circle cx="265.1" cy="249.1" r="3.5"/><circle cx="185.1" cy="285.0" r="3.5"/><circle cx="177.8" cy="273.2" r="3.5"/><circle cx="200.0" cy="272.8" r="3.5"/><circle cx="206.6" cy="276.9" r="3.5"/><circle cx="171.3" cy="289.2" r="3.5"/><circle cx="269.9" cy="251.0" r="3.5"/><circle cx="221.2" cy="254.6" r="3.5"/><circle cx="192.2" cy="283.5" r="3.5"/><circle cx="260.6" cy="273.4" r="3.5"/><circle cx="257.3" cy="254.1" r="3.5"/><circle cx="271.7" cy="279.4" r="3.5"/><circle cx="268.0" cy="265.0" r="3.5"/><circle cx="198.2" cy="266.4" r="3.5"/><circle cx="270.1" cy="252.9" r="3.5"/><circle cx="257.3" cy="262.6" r="3.5"/><circle cx="227.5" cy="266.7" r="3.5"/><circle cx="186.7" cy="272.7" r="3.5"/><circle cx="232.2" cy="248.4" r="3.5"/><circle cx="226.0" cy="250.6" r="3.5"/><circle cx="197.2" cy="279.0" r="3.5"/><circle cx="260.8" cy="245.4" r="3.5"/><circle cx="213.1" cy="275.3" r="3.5"/><circle cx="270.5" cy="275.6" r="3.5"/><circle cx="203.4" cy="269.2" r="3.5"/><circle cx="255.2" cy="253.3" r="3.5"/><circle cx="246.1" cy="276.1" r="3.5"/><circle cx="248.4" cy="249.0" r="3.5"/><circle cx="251.2" cy="272.6" r="3.5"/><circle cx="249.1" cy="260.2" r="3.5"/><circle cx="226.9" cy="251.2" r="3.5"/><circle cx="266.2" cy="279.1" r="3.5"/><circle cx="221.7" cy="253.2" r="3.5"/><circle cx="240.2" cy="240.3" r="3.5"/><circle cx="239.3" cy="254.1" r="3.5"/><circle cx="271.1" cy="250.2" r="3.5"/><circle cx="213.1" cy="264.1" r="3.5"/><circle cx="263.3" cy="270.7" r="3.5"/><circle cx="262.6" cy="243.5" r="3.5"/><circle cx="234.1" cy="261.9" r="3.5"/><circle cx="210.0" cy="280.6" r="3.5"/><circle cx="198.4" cy="270.8" r="3.5"/><circle cx="257.6" cy="260.2" r="3.5"/><circle cx="193.9" cy="266.3" r="3.5"/><circle cx="232.2" cy="282.5" r="3.5"/><circle cx="175.5" cy="292.3" r="3.5"/><circle cx="170.5" cy="290.9" r="3.5"/><circle cx="213.1" cy="263.6" r="3.5"/><circle cx="198.7" cy="289.4" r="3.5"/><circle cx="178.1" cy="284.4" r="3.5"/><circle cx="181.7" cy="272.3" r="3.5"/><circle cx="203.5" cy="274.0" r="3.5"/><circle cx="263.9" cy="260.3" r="3.5"/><circle cx="221.2" cy="255.8" r="3.5"/><circle cx="194.4" cy="278.9" r="3.5"/><circle cx="207.0" cy="267.4" r="3.5"/><circle cx="184.1" cy="287.0" r="3.5"/><circle cx="200.0" cy="267.9" r="3.5"/><circle cx="178.4" cy="273.4" r="3.5"/><circle cx="264.9" cy="279.3" r="3.5"/><circle cx="210.1" cy="267.6" r="3.5"/><circle cx="258.1" cy="236.6" r="3.5"/><circle cx="177.2" cy="293.2" r="3.5"/><circle cx="245.6" cy="273.0" r="3.5"/><circle cx="257.3" cy="258.6" r="3.5"/><circle cx="212.6" cy="270.1" r="3.5"/><circle cx="258.9" cy="262.3" r="3.5"/><circle cx="176.8" cy="280.9" r="3.5"/><circle cx="187.7" cy="293.4" r="3.5"/><circle cx="241.3" cy="240.8" r="3.5"/><circle cx="269.1" cy="243.8" r="3.5"/><circle cx="267.3" cy="270.9" r="3.5"/><circle cx="233.9" cy="246.7" r="3.5"/><circle cx="242.2" cy="282.4" r="3.5"/><circle cx="271.6" cy="265.4" r="3.5"/><circle cx="242.6" cy="268.7" r="3.5"/><circle cx="267.9" cy="236.5" r="3.5"/><circle cx="197.6" cy="290.4" r="3.5"/><circle cx="201.4" cy="283.4" r="3.5"/><circle cx="225.1" cy="277.8" r="3.5"/><circle cx="183.2" cy="268.3" r="3.5"/><circle cx="230.7" cy="247.6" r="3.5"/><circle cx="186.3" cy="271.9" r="3.5"/><circle cx="274.1" cy="276.8" r="3.5"/><circle cx="272.8" cy="257.9" r="3.5"/><circle cx="266.1" cy="266.1" r="3.5"/><circle cx="185.0" cy="265.4" r="3.5"/><circle cx="183.1" cy="280.2" r="3.5"/><circle cx="205.3" cy="285.0" r="3.5"/><circle cx="227.1" cy="264.4" r="3.5"/><circle cx="255.1" cy="272.3" r="3.5"/><circle cx="251.5" cy="244.0" r="3.5"/><circle cx="195.8" cy="267.8" r="3.5"/><circle cx="270.8" cy="263.6" r="3.5"/><circle cx="239.2" cy="262.5" r="3.5"/><circle cx="269.8" cy="249.6" r="3.5"/><circle cx="239.5" cy="246.2" r="3.5"/><circle cx="262.8" cy="256.4" r="3.5"/><circle cx="176.9" cy="288.1" r="3.5"/><circle cx="225.3" cy="273.2" r="3.5"/><circle cx="274.0" cy="273.9" r="3.5"/><circle cx="175.8" cy="284.9" r="3.5"/><circle cx="270.6" cy="257.9" r="3.5"/><circle cx="242.7" cy="244.0" r="3.5"/><circle cx="262.7" cy="263.7" r="3.5"/><circle cx="260.9" cy="257.9" r="3.5"/><circle cx="183.1" cy="276.3" r="3.5"/><circle cx="202.2" cy="278.1" r="3.5"/><circle cx="225.1" cy="282.1" r="3.5"/><circle cx="177.0" cy="294.5" r="3.5"/><circle cx="257.1" cy="259.7" r="3.5"/><circle cx="176.7" cy="281.9" r="3.5"/><circle cx="196.5" cy="270.4" r="3.5"/><circle cx="261.2" cy="255.4" r="3.5"/><circle cx="240.7" cy="282.6" r="3.5"/><circle cx="184.6" cy="283.6" r="3.5"/><circle cx="239.6" cy="240.6" r="3.5"/><circle cx="257.9" cy="240.7" r="3.5"/><circle cx="261.0" cy="262.7" r="3.5"/><circle cx="188.4" cy="291.3" r="3.5"/><circle cx="226.4" cy="278.9" r="3.5"/><circle cx="260.9" cy="279.2" r="3.5"/><circle cx="234.5" cy="265.1" r="3.5"/><circle cx="268.2" cy="269.8" r="3.5"/><circle cx="198.1" cy="278.1" r="3.5"/><circle cx="246.2" cy="252.4" r="3.5"/><circle cx="244.8" cy="256.7" r="3.5"/><circle cx="268.1" cy="235.4" r="3.5"/><circle cx="266.3" cy="259.9" r="3.5"/><circle cx="203.9" cy="279.2" r="3.5"/><circle cx="261.2" cy="265.6" r="3.5"/><circle cx="200.6" cy="276.7" r="3.5"/><circle cx="236.2" cy="241.9" r="3.5"/><circle cx="266.7" cy="258.0" r="3.5"/><circle cx="232.3" cy="274.1" r="3.5"/><circle cx="254.4" cy="243.7" r="3.5"/><circle cx="224.0" cy="260.4" r="3.5"/><circle cx="225.8" cy="267.4" r="3.5"/><circle cx="243.1" cy="278.1" r="3.5"/><circle cx="217.1" cy="267.2" r="3.5"/><circle cx="250.0" cy="237.6" r="3.5"/><circle cx="268.3" cy="237.9" r="3.5"/><circle cx="273.0" cy="251.4" r="3.5"/><circle cx="253.0" cy="247.5" r="3.5"/><circle cx="176.4" cy="275.1" r="3.5"/><circle cx="268.9" cy="264.3" r="3.5"/><circle cx="248.4" cy="265.9" r="3.5"/><circle cx="181.8" cy="288.2" r="3.5"/><circle cx="182.4" cy="270.0" r="3.5"/><circle cx="230.5" cy="246.8" r="3.5"/><circle cx="187.7" cy="290.2" r="3.5"/><circle cx="204.3" cy="279.8" r="3.5"/><circle cx="181.2" cy="275.3" r="3.5"/><circle cx="190.4" cy="281.0" r="3.5"/><circle cx="166.7" cy="301.1" r="3.5"/><circle cx="199.5" cy="289.7" r="3.5"/><circle cx="184.3" cy="270.2" r="3.5"/><circle cx="180.8" cy="275.6" r="3.5"/><circle cx="266.0" cy="236.3" r="3.5"/><circle cx="262.1" cy="274.9" r="3.5"/><circle cx="240.5" cy="267.0" r="3.5"/><circle cx="224.6" cy="256.4" r="3.5"/><circle cx="261.1" cy="273.5" r="3.5"/><circle cx="192.6" cy="262.7" r="3.5"/><circle cx="235.9" cy="256.4" r="3.5"/><circle cx="258.8" cy="252.5" r="3.5"/><circle cx="190.4" cy="264.6" r="3.5"/><circle cx="246.6" cy="239.3" r="3.5"/><circle cx="243.2" cy="240.7" r="3.5"/><circle cx="222.7" cy="262.9" r="3.5"/><circle cx="234.0" cy="255.8" r="3.5"/><circle cx="189.2" cy="262.9" r="3.5"/><circle cx="216.8" cy="273.9" r="3.5"/><circle cx="267.0" cy="254.4" r="3.5"/><circle cx="222.4" cy="254.3" r="3.5"/><circle cx="183.5" cy="284.0" r="3.5"/><circle cx="215.4" cy="265.7" r="3.5"/><circle cx="206.6" cy="285.0" r="3.5"/><circle cx="253.3" cy="253.7" r="3.5"/><circle cx="241.3" cy="246.4" r="3.5"/><circle cx="252.1" cy="263.4" r="3.5"/><circle cx="209.6" cy="266.5" r="3.5"/><circle cx="254.1" cy="236.6" r="3.5"/><circle cx="271.8" cy="272.9" r="3.5"/><circle cx="205.6" cy="268.2" r="3.5"/><circle cx="248.0" cy="239.3" r="3.5"/><circle cx="222.6" cy="251.2" r="3.5"/><circle cx="264.1" cy="277.5" r="3.5"/><circle cx="257.3" cy="242.9" r="3.5"/><circle cx="238.6" cy="275.8" r="3.5"/><circle cx="239.6" cy="256.9" r="3.5"/><circle cx="249.5" cy="278.8" r="3.5"/><circle cx="173.0" cy="283.6" r="3.5"/><circle cx="247.7" cy="258.0" r="3.5"/><circle cx="243.1" cy="249.8" r="3.5"/><circle cx="259.4" cy="257.1" r="3.5"/><circle cx="260.3" cy="282.0" r="3.5"/><circle cx="266.1" cy="257.2" r="3.5"/><circle cx="194.7" cy="281.4" r="3.5"/><circle cx="196.7" cy="272.8" r="3.5"/><circle cx="253.2" cy="260.8" r="3.5"/><circle cx="266.4" cy="257.7" r="3.5"/><circle cx="253.0" cy="251.3" r="3.5"/><circle cx="239.0" cy="269.2" r="3.5"/><circle cx="210.3" cy="267.5" r="3.5"/><circle cx="193.0" cy="292.5" r="3.5"/><circle cx="206.5" cy="265.7" r="3.5"/><circle cx="245.0" cy="244.4" r="3.5"/><circle cx="268.3" cy="254.2" r="3.5"/><circle cx="247.4" cy="251.2" r="3.5"/><circle cx="194.5" cy="291.2" r="3.5"/><circle cx="191.8" cy="276.0" r="3.5"/><circle cx="184.3" cy="280.6" r="3.5"/><circle cx="225.4" cy="280.6" r="3.5"/><circle cx="230.3" cy="247.6" r="3.5"/><circle cx="175.2" cy="266.3" r="3.5"/><circle cx="183.3" cy="296.1" r="3.5"/><circle cx="201.1" cy="286.1" r="3.5"/><circle cx="261.0" cy="249.5" r="3.5"/><circle cx="191.0" cy="289.0" r="3.5"/><circle cx="166.2" cy="296.3" r="3.5"/><circle cx="227.5" cy="270.6" r="3.5"/><circle cx="286.7" cy="276.8" r="3.5"/><circle cx="276.6" cy="240.7" r="3.5"/><circle cx="301.4" cy="230.5" r="3.5"/><circle cx="320.4" cy="209.5" r="3.5"/><circle cx="304.5" cy="224.6" r="3.5"/><circle cx="311.3" cy="207.3" r="3.5"/><circle cx="287.5" cy="261.5" r="3.5"/><circle cx="325.1" cy="205.2" r="3.5"/><circle cx="316.5" cy="235.5" r="3.5"/><circle cx="316.3" cy="247.6" r="3.5"/><circle cx="322.0" cy="202.1" r="3.5"/><circle cx="323.0" cy="242.6" r="3.5"/><circle cx="287.5" cy="275.1" r="3.5"/><circle cx="309.6" cy="216.3" r="3.5"/><circle cx="292.6" cy="215.2" r="3.5"/><circle cx="299.5" cy="251.2" r="3.5"/><circle cx="285.2" cy="264.1" r="3.5"/><circle cx="279.7" cy="273.5" r="3.5"/><circle cx="292.8" cy="217.4" r="3.5"/><circle cx="313.0" cy="214.6" r="3.5"/><circle cx="305.1" cy="245.0" r="3.5"/><circle cx="319.4" cy="231.2" r="3.5"/><circle cx="324.0" cy="254.7" r="3.5"/><circle cx="323.2" cy="212.7" r="3.5"/><circle cx="286.8" cy="221.0" r="3.5"/><circle cx="298.4" cy="224.9" r="3.5"/><circle cx="292.3" cy="261.1" r="3.5"/><circle cx="275.2" cy="250.4" r="3.5"/><circle cx="316.4" cy="243.3" r="3.5"/><circle cx="305.8" cy="247.2" r="3.5"/><circle cx="292.1" cy="222.6" r="3.5"/><circle cx="306.6" cy="230.5" r="3.5"/><circle cx="310.8" cy="245.6" r="3.5"/><circle cx="281.2" cy="270.0" r="3.5"/><circle cx="323.8" cy="237.6" r="3.5"/><circle cx="295.1" cy="251.5" r="3.5"/><circle cx="323.7" cy="252.2" r="3.5"/><circle cx="325.4" cy="220.1" r="3.5"/><circle cx="317.4" cy="217.4" r="3.5"/><circle cx="287.8" cy="236.6" r="3.5"/><circle cx="280.1" cy="256.8" r="3.5"/><circle cx="319.0" cy="252.9" r="3.5"/><circle cx="278.9" cy="264.0" r="3.5"/><circle cx="293.5" cy="267.8" r="3.5"/><circle cx="307.2" cy="239.0" r="3.5"/><circle cx="321.3" cy="251.3" r="3.5"/><circle cx="313.2" cy="204.5" r="3.5"/><circle cx="291.6" cy="214.8" r="3.5"/><circle cx="282.4" cy="260.3" r="3.5"/><circle cx="304.4" cy="205.7" r="3.5"/><circle cx="307.7" cy="229.4" r="3.5"/><circle cx="313.9" cy="230.4" r="3.5"/><circle cx="302.8" cy="243.5" r="3.5"/><circle cx="289.2" cy="217.3" r="3.5"/><circle cx="315.5" cy="236.1" r="3.5"/><circle cx="282.1" cy="253.1" r="3.5"/><circle cx="319.7" cy="217.4" r="3.5"/><circle cx="312.7" cy="218.2" r="3.5"/><circle cx="290.2" cy="239.7" r="3.5"/><circle cx="284.5" cy="232.2" r="3.5"/><circle cx="323.1" cy="220.9" r="3.5"/><circle cx="291.4" cy="245.3" r="3.5"/><circle cx="295.1" cy="239.9" r="3.5"/><circle cx="324.1" cy="228.0" r="3.5"/><circle cx="291.1" cy="216.4" r="3.5"/><circle cx="313.6" cy="248.5" r="3.5"/><circle cx="313.4" cy="228.8" r="3.5"/><circle cx="302.0" cy="230.1" r="3.5"/><circle cx="307.1" cy="227.2" r="3.5"/><circle cx="314.3" cy="205.2" r="3.5"/><circle cx="288.5" cy="225.6" r="3.5"/><circle cx="278.6" cy="256.4" r="3.5"/><circle cx="314.5" cy="240.8" r="3.5"/><circle cx="292.4" cy="240.6" r="3.5"/><circle cx="316.1" cy="236.3" r="3.5"/><circle cx="281.8" cy="235.2" r="3.5"/><circle cx="278.4" cy="242.7" r="3.5"/><circle cx="295.6" cy="258.9" r="3.5"/><circle cx="282.7" cy="268.8" r="3.5"/><circle cx="313.5" cy="251.6" r="3.5"/><circle cx="281.7" cy="272.1" r="3.5"/><circle cx="288.9" cy="222.5" r="3.5"/><circle cx="315.9" cy="237.3" r="3.5"/><circle cx="310.7" cy="208.3" r="3.5"/><circle cx="317.8" cy="233.8" r="3.5"/><circle cx="275.2" cy="264.6" r="3.5"/><circle cx="278.0" cy="246.0" r="3.5"/><circle cx="307.1" cy="235.4" r="3.5"/><circle cx="291.9" cy="258.4" r="3.5"/><circle cx="316.2" cy="255.2" r="3.5"/><circle cx="276.4" cy="252.0" r="3.5"/><circle cx="304.8" cy="241.4" r="3.5"/><circle cx="301.1" cy="260.5" r="3.5"/><circle cx="324.0" cy="234.3" r="3.5"/><circle cx="325.3" cy="208.2" r="3.5"/><circle cx="299.4" cy="214.5" r="3.5"/><circle cx="311.1" cy="246.9" r="3.5"/><circle cx="292.4" cy="220.2" r="3.5"/><circle cx="295.5" cy="229.5" r="3.5"/><circle cx="284.9" cy="275.3" r="3.5"/><circle cx="301.3" cy="245.3" r="3.5"/><circle cx="285.1" cy="272.1" r="3.5"/><circle cx="288.5" cy="236.9" r="3.5"/><circle cx="283.3" cy="264.9" r="3.5"/><circle cx="325.6" cy="231.9" r="3.5"/><circle cx="316.0" cy="247.0" r="3.5"/><circle cx="282.8" cy="279.5" r="3.5"/><circle cx="303.7" cy="252.3" r="3.5"/><circle cx="325.0" cy="245.1" r="3.5"/><circle cx="312.4" cy="239.8" r="3.5"/><circle cx="285.9" cy="260.1" r="3.5"/><circle cx="320.3" cy="255.0" r="3.5"/><circle cx="299.7" cy="265.6" r="3.5"/><circle cx="321.2" cy="239.6" r="3.5"/><circle cx="280.3" cy="260.7" r="3.5"/><circle cx="298.3" cy="260.1" r="3.5"/><circle cx="311.9" cy="206.4" r="3.5"/><circle cx="299.0" cy="241.4" r="3.5"/><circle cx="287.2" cy="266.6" r="3.5"/><circle cx="310.3" cy="248.6" r="3.5"/><circle cx="305.6" cy="207.3" r="3.5"/><circle cx="286.7" cy="240.6" r="3.5"/><circle cx="286.2" cy="268.9" r="3.5"/><circle cx="321.9" cy="227.6" r="3.5"/><circle cx="313.6" cy="211.5" r="3.5"/><circle cx="283.3" cy="252.7" r="3.5"/><circle cx="300.6" cy="263.6" r="3.5"/><circle cx="302.8" cy="230.4" r="3.5"/><circle cx="313.0" cy="203.4" r="3.5"/><circle cx="298.4" cy="213.3" r="3.5"/><circle cx="308.2" cy="221.9" r="3.5"/><circle cx="296.9" cy="212.2" r="3.5"/><circle cx="318.3" cy="211.2" r="3.5"/><circle cx="293.7" cy="231.6" r="3.5"/><circle cx="313.9" cy="215.9" r="3.5"/><circle cx="314.2" cy="201.7" r="3.5"/><circle cx="301.5" cy="247.0" r="3.5"/><circle cx="295.8" cy="262.7" r="3.5"/><circle cx="311.6" cy="204.1" r="3.5"/><circle cx="287.9" cy="231.4" r="3.5"/><circle cx="292.8" cy="233.8" r="3.5"/><circle cx="279.8" cy="245.7" r="3.5"/><circle cx="313.4" cy="228.7" r="3.5"/><circle cx="287.7" cy="242.7" r="3.5"/><circle cx="315.5" cy="254.7" r="3.5"/><circle cx="291.0" cy="264.3" r="3.5"/><circle cx="293.7" cy="255.3" r="3.5"/><circle cx="324.2" cy="217.3" r="3.5"/><circle cx="284.0" cy="245.2" r="3.5"/><circle cx="287.7" cy="227.0" r="3.5"/><circle cx="276.4" cy="270.8" r="3.5"/><circle cx="285.7" cy="227.2" r="3.5"/><circle cx="293.4" cy="215.4" r="3.5"/><circle cx="280.8" cy="250.9" r="3.5"/><circle cx="290.5" cy="242.3" r="3.5"/><circle cx="310.2" cy="245.9" r="3.5"/><circle cx="312.1" cy="210.6" r="3.5"/><circle cx="322.5" cy="235.6" r="3.5"/><circle cx="317.4" cy="204.1" r="3.5"/><circle cx="317.3" cy="223.9" r="3.5"/><circle cx="309.2" cy="229.0" r="3.5"/><circle cx="321.1" cy="217.0" r="3.5"/><circle cx="308.6" cy="260.3" r="3.5"/><circle cx="308.7" cy="219.2" r="3.5"/><circle cx="325.1" cy="239.7" r="3.5"/><circle cx="308.3" cy="258.5" r="3.5"/><circle cx="287.8" cy="238.0" r="3.5"/><circle cx="301.7" cy="212.3" r="3.5"/><circle cx="289.5" cy="239.5" r="3.5"/><circle cx="314.0" cy="223.6" r="3.5"/><circle cx="294.6" cy="237.9" r="3.5"/><circle cx="307.7" cy="248.7" r="3.5"/><circle cx="319.4" cy="206.1" r="3.5"/><circle cx="297.4" cy="212.7" r="3.5"/><circle cx="299.5" cy="218.6" r="3.5"/><circle cx="286.8" cy="245.5" r="3.5"/><circle cx="293.4" cy="248.4" r="3.5"/><circle cx="318.8" cy="212.1" r="3.5"/><circle cx="323.1" cy="254.0" r="3.5"/><circle cx="287.2" cy="218.2" r="3.5"/><circle cx="319.1" cy="222.5" r="3.5"/><circle cx="322.1" cy="247.6" r="3.5"/><circle cx="312.3" cy="208.5" r="3.5"/><circle cx="298.1" cy="233.1" r="3.5"/><circle cx="285.5" cy="268.0" r="3.5"/><circle cx="293.4" cy="213.1" r="3.5"/><circle cx="325.2" cy="249.6" r="3.5"/><circle cx="308.3" cy="253.0" r="3.5"/><circle cx="276.2" cy="248.5" r="3.5"/><circle cx="286.9" cy="251.4" r="3.5"/><circle cx="318.7" cy="238.1" r="3.5"/><circle cx="321.0" cy="219.4" r="3.5"/><circle cx="286.6" cy="261.4" r="3.5"/><circle cx="321.0" cy="209.3" r="3.5"/><circle cx="297.4" cy="215.2" r="3.5"/><circle cx="284.8" cy="276.6" r="3.5"/><circle cx="295.5" cy="269.6" r="3.5"/><circle cx="286.9" cy="249.2" r="3.5"/><circle cx="306.7" cy="222.9" r="3.5"/><circle cx="317.5" cy="221.4" r="3.5"/><circle cx="326.0" cy="247.1" r="3.5"/><circle cx="291.4" cy="242.1" r="3.5"/><circle cx="292.5" cy="268.5" r="3.5"/><circle cx="276.2" cy="238.8" r="3.5"/><circle cx="275.0" cy="262.4" r="3.5"/><circle cx="288.2" cy="246.9" r="3.5"/><circle cx="301.6" cy="259.7" r="3.5"/><circle cx="320.2" cy="206.7" r="3.5"/><circle cx="286.9" cy="217.9" r="3.5"/><circle cx="304.9" cy="246.7" r="3.5"/><circle cx="323.8" cy="228.2" r="3.5"/><circle cx="323.0" cy="242.2" r="3.5"/><circle cx="289.8" cy="230.2" r="3.5"/><circle cx="308.3" cy="252.8" r="3.5"/><circle cx="308.6" cy="260.2" r="3.5"/><circle cx="324.1" cy="220.5" r="3.5"/><circle cx="304.1" cy="219.3" r="3.5"/><circle cx="310.3" cy="226.8" r="3.5"/><circle cx="287.1" cy="238.0" r="3.5"/><circle cx="278.7" cy="275.9" r="3.5"/><circle cx="306.8" cy="248.6" r="3.5"/><circle cx="275.5" cy="249.0" r="3.5"/><circle cx="308.0" cy="219.2" r="3.5"/><circle cx="286.9" cy="244.5" r="3.5"/><circle cx="323.9" cy="221.9" r="3.5"/><circle cx="320.9" cy="224.5" r="3.5"/><circle cx="312.5" cy="237.3" r="3.5"/><circle cx="286.0" cy="227.9" r="3.5"/><circle cx="295.7" cy="243.5" r="3.5"/><circle cx="279.0" cy="259.8" r="3.5"/><circle cx="293.1" cy="272.1" r="3.5"/><circle cx="297.3" cy="218.7" r="3.5"/><circle cx="309.5" cy="217.3" r="3.5"/><circle cx="285.0" cy="278.4" r="3.5"/><circle cx="290.3" cy="226.8" r="3.5"/><circle cx="305.0" cy="221.0" r="3.5"/><circle cx="275.8" cy="255.0" r="3.5"/><circle cx="312.0" cy="228.5" r="3.5"/><circle cx="283.8" cy="271.3" r="3.5"/><circle cx="288.5" cy="272.8" r="3.5"/><circle cx="325.3" cy="203.0" r="3.5"/><circle cx="324.5" cy="216.0" r="3.5"/><circle cx="292.1" cy="253.8" r="3.5"/><circle cx="291.3" cy="243.2" r="3.5"/><circle cx="299.4" cy="227.1" r="3.5"/><circle cx="312.2" cy="235.5" r="3.5"/><circle cx="300.1" cy="220.0" r="3.5"/><circle cx="310.3" cy="239.9" r="3.5"/><circle cx="311.6" cy="224.2" r="3.5"/><circle cx="279.8" cy="260.2" r="3.5"/><circle cx="284.8" cy="272.5" r="3.5"/><circle cx="304.7" cy="211.9" r="3.5"/><circle cx="307.3" cy="225.3" r="3.5"/><circle cx="288.2" cy="243.8" r="3.5"/><circle cx="276.6" cy="274.2" r="3.5"/><circle cx="286.3" cy="230.4" r="3.5"/><circle cx="285.4" cy="232.4" r="3.5"/><circle cx="308.8" cy="227.3" r="3.5"/><circle cx="315.5" cy="232.3" r="3.5"/><circle cx="291.1" cy="273.8" r="3.5"/><circle cx="277.8" cy="262.5" r="3.5"/><circle cx="301.2" cy="216.3" r="3.5"/><circle cx="298.5" cy="221.0" r="3.5"/><circle cx="281.1" cy="252.2" r="3.5"/><circle cx="348.2" cy="237.6" r="3.5"/><circle cx="329.0" cy="240.1" r="3.5"/><circle cx="346.5" cy="226.5" r="3.5"/><circle cx="354.4" cy="223.4" r="3.5"/><circle cx="341.8" cy="246.1" r="3.5"/><circle cx="352.3" cy="231.3" r="3.5"/><circle cx="358.8" cy="245.2" r="3.5"/><circle cx="329.6" cy="240.8" r="3.5"/><circle cx="328.2" cy="230.1" r="3.5"/><circle cx="344.1" cy="235.1" r="3.5"/><circle cx="331.2" cy="225.5" r="3.5"/><circle cx="351.7" cy="230.2" r="3.5"/><circle cx="340.4" cy="226.0" r="3.5"/><circle cx="362.3" cy="233.4" r="3.5"/><circle cx="366.5" cy="234.0" r="3.5"/><circle cx="337.3" cy="237.9" r="3.5"/><circle cx="341.9" cy="236.6" r="3.5"/><circle cx="360.6" cy="226.6" r="3.5"/><circle cx="353.9" cy="239.4" r="3.5"/><circle cx="348.9" cy="235.0" r="3.5"/><circle cx="360.9" cy="235.9" r="3.5"/><circle cx="349.3" cy="247.0" r="3.5"/><circle cx="335.1" cy="235.4" r="3.5"/><circle cx="359.9" cy="223.9" r="3.5"/><circle cx="345.6" cy="241.6" r="3.5"/><circle cx="341.4" cy="237.7" r="3.5"/><circle cx="359.5" cy="237.0" r="3.5"/><circle cx="360.1" cy="223.1" r="3.5"/><circle cx="344.4" cy="239.4" r="3.5"/><circle cx="334.6" cy="231.5" r="3.5"/><circle cx="337.0" cy="228.9" r="3.5"/><circle cx="326.2" cy="235.4" r="3.5"/><circle cx="336.1" cy="226.8" r="3.5"/><circle cx="332.0" cy="247.5" r="3.5"/><circle cx="332.9" cy="242.4" r="3.5"/><circle cx="352.3" cy="231.6" r="3.5"/><circle cx="332.9" cy="223.1" r="3.5"/><circle cx="343.1" cy="236.8" r="3.5"/><circle cx="344.1" cy="236.6" r="3.5"/><circle cx="355.4" cy="240.6" r="3.5"/><circle cx="344.4" cy="231.1" r="3.5"/><circle cx="332.2" cy="238.0" r="3.5"/><circle cx="349.3" cy="241.7" r="3.5"/><circle cx="327.1" cy="233.6" r="3.5"/><circle cx="346.3" cy="234.6" r="3.5"/><circle cx="359.4" cy="227.3" r="3.5"/><circle cx="341.7" cy="240.2" r="3.5"/><circle cx="348.9" cy="228.9" r="3.5"/><circle cx="332.2" cy="224.0" r="3.5"/><circle cx="328.4" cy="227.6" r="3.5"/><circle cx="344.5" cy="240.5" r="3.5"/><circle cx="336.8" cy="224.5" r="3.5"/><circle cx="350.5" cy="246.6" r="3.5"/><circle cx="340.3" cy="241.0" r="3.5"/><circle cx="352.1" cy="233.0" r="3.5"/><circle cx="342.0" cy="228.2" r="3.5"/><circle cx="346.8" cy="228.8" r="3.5"/><circle cx="350.9" cy="244.2" r="3.5"/><circle cx="356.9" cy="226.9" r="3.5"/><circle cx="356.7" cy="222.7" r="3.5"/><circle cx="353.8" cy="229.1" r="3.5"/><circle cx="313.7" cy="199.8" r="3.5"/><circle cx="324.9" cy="201.0" r="3.5"/><circle cx="314.8" cy="194.6" r="3.5"/><circle cx="322.3" cy="197.4" r="3.5"/><circle cx="315.4" cy="199.0" r="3.5"/><circle cx="314.3" cy="200.3" r="3.5"/><circle cx="315.7" cy="187.8" r="3.5"/><circle cx="321.1" cy="188.2" r="3.5"/><circle cx="319.8" cy="186.8" r="3.5"/><circle cx="386.0" cy="205.0" r="3.5"/><circle cx="377.6" cy="217.1" r="3.5"/><circle cx="346.2" cy="238.8" r="3.5"/><circle cx="328.7" cy="222.2" r="3.5"/><circle cx="333.0" cy="240.6" r="3.5"/><circle cx="363.6" cy="221.7" r="3.5"/><circle cx="384.2" cy="234.6" r="3.5"/><circle cx="353.8" cy="244.7" r="3.5"/><circle cx="392.0" cy="204.4" r="3.5"/><circle cx="341.1" cy="223.3" r="3.5"/><circle cx="353.2" cy="206.6" r="3.5"/><circle cx="401.3" cy="222.0" r="3.5"/><circle cx="389.7" cy="210.9" r="3.5"/><circle cx="399.9" cy="209.4" r="3.5"/><circle cx="399.4" cy="228.8" r="3.5"/><circle cx="377.1" cy="224.9" r="3.5"/><circle cx="395.2" cy="220.5" r="3.5"/><circle cx="334.0" cy="243.7" r="3.5"/><circle cx="391.3" cy="232.3" r="3.5"/><circle cx="386.3" cy="210.0" r="3.5"/><circle cx="363.5" cy="239.2" r="3.5"/><circle cx="339.0" cy="232.4" r="3.5"/><circle cx="370.9" cy="218.6" r="3.5"/><circle cx="364.1" cy="222.9" r="3.5"/><circle cx="347.7" cy="216.7" r="3.5"/><circle cx="373.7" cy="206.5" r="3.5"/><circle cx="397.8" cy="216.7" r="3.5"/><circle cx="337.4" cy="227.3" r="3.5"/><circle cx="404.3" cy="217.6" r="3.5"/><circle cx="370.3" cy="214.0" r="3.5"/><circle cx="328.3" cy="208.6" r="3.5"/><circle cx="336.0" cy="212.6" r="3.5"/><circle cx="377.0" cy="226.4" r="3.5"/><circle cx="355.3" cy="245.5" r="3.5"/><circle cx="377.4" cy="225.4" r="3.5"/><circle cx="395.9" cy="231.7" r="3.5"/><circle cx="355.2" cy="228.4" r="3.5"/><circle cx="350.3" cy="246.5" r="3.5"/><circle cx="345.8" cy="246.7" r="3.5"/><circle cx="370.8" cy="208.7" r="3.5"/><circle cx="367.1" cy="204.3" r="3.5"/><circle cx="393.8" cy="231.6" r="3.5"/><circle cx="330.0" cy="219.6" r="3.5"/><circle cx="404.5" cy="214.0" r="3.5"/><circle cx="372.0" cy="198.9" r="3.5"/><circle cx="359.7" cy="243.2" r="3.5"/><circle cx="327.1" cy="208.5" r="3.5"/><circle cx="340.5" cy="239.7" r="3.5"/><circle cx="334.2" cy="244.6" r="3.5"/><circle cx="347.7" cy="242.1" r="3.5"/><circle cx="367.8" cy="214.5" r="3.5"/><circle cx="404.3" cy="218.6" r="3.5"/><circle cx="382.5" cy="201.8" r="3.5"/><circle cx="335.0" cy="235.4" r="3.5"/><circle cx="347.9" cy="205.8" r="3.5"/><circle cx="355.5" cy="231.3" r="3.5"/><circle cx="378.9" cy="206.5" r="3.5"/><circle cx="384.8" cy="225.8" r="3.5"/><circle cx="355.1" cy="243.1" r="3.5"/><circle cx="339.0" cy="223.4" r="3.5"/><circle cx="372.5" cy="226.2" r="3.5"/><circle cx="359.4" cy="225.4" r="3.5"/><circle cx="360.2" cy="210.2" r="3.5"/><circle cx="387.3" cy="210.5" r="3.5"/><circle cx="392.7" cy="210.5" r="3.5"/><circle cx="333.5" cy="222.1" r="3.5"/><circle cx="357.4" cy="215.1" r="3.5"/><circle cx="388.0" cy="209.5" r="3.5"/><circle cx="362.7" cy="223.4" r="3.5"/><circle cx="400.8" cy="228.4" r="3.5"/><circle cx="332.7" cy="214.9" r="3.5"/><circle cx="333.2" cy="230.6" r="3.5"/><circle cx="209.8" cy="290.6" r="3.5"/><circle cx="219.3" cy="308.2" r="3.5"/><circle cx="261.9" cy="301.8" r="3.5"/><circle cx="210.4" cy="286.6" r="3.5"/><circle cx="255.2" cy="300.1" r="3.5"/><circle cx="181.3" cy="299.5" r="3.5"/><circle cx="236.1" cy="294.1" r="3.5"/><circle cx="235.3" cy="284.6" r="3.5"/><circle cx="238.1" cy="309.8" r="3.5"/><circle cx="236.3" cy="288.2" r="3.5"/><circle cx="207.4" cy="301.3" r="3.5"/><circle cx="210.6" cy="286.4" r="3.5"/><circle cx="236.2" cy="295.9" r="3.5"/><circle cx="264.4" cy="304.8" r="3.5"/><circle cx="215.2" cy="286.0" r="3.5"/><circle cx="237.9" cy="301.5" r="3.5"/><circle cx="226.4" cy="309.3" r="3.5"/><circle cx="169.3" cy="302.0" r="3.5"/><circle cx="250.2" cy="285.2" r="3.5"/><circle cx="201.7" cy="301.5" r="3.5"/><circle cx="203.7" cy="301.9" r="3.5"/><circle cx="194.1" cy="309.4" r="3.5"/><circle cx="174.3" cy="302.3" r="3.5"/><circle cx="257.0" cy="299.8" r="3.5"/><circle cx="181.1" cy="306.4" r="3.5"/><circle cx="241.2" cy="285.2" r="3.5"/><circle cx="205.2" cy="300.8" r="3.5"/><circle cx="202.3" cy="306.5" r="3.5"/><circle cx="271.1" cy="290.9" r="3.5"/><circle cx="261.8" cy="304.0" r="3.5"/><circle cx="257.1" cy="298.5" r="3.5"/><circle cx="268.2" cy="300.0" r="3.5"/><circle cx="265.9" cy="297.8" r="3.5"/><circle cx="185.5" cy="296.5" r="3.5"/><circle cx="216.2" cy="291.4" r="3.5"/><circle cx="204.5" cy="296.3" r="3.5"/><circle cx="227.4" cy="288.2" r="3.5"/><circle cx="194.2" cy="296.1" r="3.5"/><circle cx="218.4" cy="293.7" r="3.5"/><circle cx="235.6" cy="287.2" r="3.5"/><circle cx="221.4" cy="289.7" r="3.5"/><circle cx="248.1" cy="296.5" r="3.5"/><circle cx="191.1" cy="307.9" r="3.5"/><circle cx="219.2" cy="292.5" r="3.5"/><circle cx="195.6" cy="293.3" r="3.5"/><circle cx="240.3" cy="304.9" r="3.5"/><circle cx="216.1" cy="302.5" r="3.5"/><circle cx="202.8" cy="290.6" r="3.5"/><circle cx="203.0" cy="303.1" r="3.5"/><circle cx="243.0" cy="287.8" r="3.5"/><circle cx="189.5" cy="304.0" r="3.5"/><circle cx="234.5" cy="300.9" r="3.5"/><circle cx="267.4" cy="296.7" r="3.5"/><circle cx="236.2" cy="309.1" r="3.5"/><circle cx="249.6" cy="302.6" r="3.5"/><circle cx="216.7" cy="292.3" r="3.5"/><circle cx="193.4" cy="295.6" r="3.5"/><circle cx="240.7" cy="307.1" r="3.5"/><circle cx="255.3" cy="306.3" r="3.5"/><circle cx="211.5" cy="293.8" r="3.5"/><circle cx="198.1" cy="309.3" r="3.5"/><circle cx="194.6" cy="307.8" r="3.5"/><circle cx="255.7" cy="291.3" r="3.5"/><circle cx="255.6" cy="306.9" r="3.5"/><circle cx="210.2" cy="287.4" r="3.5"/><circle cx="247.2" cy="292.5" r="3.5"/><circle cx="177.3" cy="307.3" r="3.5"/><circle cx="211.5" cy="293.1" r="3.5"/><circle cx="228.2" cy="289.1" r="3.5"/><circle cx="204.3" cy="303.3" r="3.5"/><circle cx="200.1" cy="301.0" r="3.5"/><circle cx="231.3" cy="287.3" r="3.5"/><circle cx="229.9" cy="290.2" r="3.5"/><circle cx="185.9" cy="305.9" r="3.5"/><circle cx="261.8" cy="288.5" r="3.5"/><circle cx="227.2" cy="298.1" r="3.5"/><circle cx="199.3" cy="300.0" r="3.5"/><circle cx="228.9" cy="296.3" r="3.5"/><circle cx="197.8" cy="293.7" r="3.5"/><circle cx="203.4" cy="307.3" r="3.5"/><circle cx="176.9" cy="309.6" r="3.5"/><circle cx="190.2" cy="306.0" r="3.5"/><circle cx="190.6" cy="298.4" r="3.5"/><circle cx="249.7" cy="304.7" r="3.5"/><circle cx="193.3" cy="303.7" r="3.5"/><circle cx="215.8" cy="309.6" r="3.5"/><circle cx="188.9" cy="299.5" r="3.5"/><circle cx="247.7" cy="305.6" r="3.5"/><circle cx="223.2" cy="292.8" r="3.5"/><circle cx="250.1" cy="284.9" r="3.5"/><circle cx="192.3" cy="303.1" r="3.5"/><circle cx="211.6" cy="309.8" r="3.5"/><circle cx="204.0" cy="294.1" r="3.5"/><circle cx="218.8" cy="290.1" r="3.5"/><circle cx="239.6" cy="296.5" r="3.5"/><circle cx="269.6" cy="286.7" r="3.5"/><circle cx="219.1" cy="295.8" r="3.5"/><circle cx="204.3" cy="306.1" r="3.5"/><circle cx="186.9" cy="306.6" r="3.5"/><circle cx="202.8" cy="291.4" r="3.5"/><circle cx="230.3" cy="297.8" r="3.5"/><circle cx="266.7" cy="292.3" r="3.5"/><circle cx="176.7" cy="300.4" r="3.5"/><circle cx="221.4" cy="291.2" r="3.5"/><circle cx="199.6" cy="305.7" r="3.5"/><circle cx="200.7" cy="293.7" r="3.5"/><circle cx="266.9" cy="292.1" r="3.5"/><circle cx="235.4" cy="300.6" r="3.5"/><circle cx="212.3" cy="293.4" r="3.5"/><circle cx="189.4" cy="304.1" r="3.5"/><circle cx="213.4" cy="305.3" r="3.5"/><circle cx="204.6" cy="302.5" r="3.5"/><circle cx="267.3" cy="301.1" r="3.5"/><circle cx="236.8" cy="295.9" r="3.5"/><circle cx="215.0" cy="287.5" r="3.5"/><circle cx="183.0" cy="300.1" r="3.5"/><circle cx="238.7" cy="289.2" r="3.5"/><circle cx="233.5" cy="285.8" r="3.5"/><circle cx="230.1" cy="286.8" r="3.5"/><circle cx="219.0" cy="290.8" r="3.5"/><circle cx="223.4" cy="285.8" r="3.5"/><circle cx="216.2" cy="299.3" r="3.5"/><circle cx="237.1" cy="297.3" r="3.5"/><circle cx="225.6" cy="288.2" r="3.5"/><circle cx="211.8" cy="305.2" r="3.5"/><circle cx="203.4" cy="294.6" r="3.5"/><circle cx="268.3" cy="305.0" r="3.5"/><circle cx="234.4" cy="285.0" r="3.5"/><circle cx="230.0" cy="282.9" r="3.5"/><circle cx="264.4" cy="309.2" r="3.5"/><circle cx="242.4" cy="289.5" r="3.5"/><circle cx="255.0" cy="287.0" r="3.5"/><circle cx="253.1" cy="296.6" r="3.5"/><circle cx="166.2" cy="306.9" r="3.5"/><circle cx="211.6" cy="305.2" r="3.5"/><circle cx="238.2" cy="296.9" r="3.5"/><circle cx="256.8" cy="287.7" r="3.5"/><circle cx="260.6" cy="291.5" r="3.5"/><circle cx="231.3" cy="285.4" r="3.5"/><circle cx="194.3" cy="307.8" r="3.5"/><circle cx="261.4" cy="306.4" r="3.5"/><circle cx="270.4" cy="294.3" r="3.5"/><circle cx="263.6" cy="304.7" r="3.5"/><circle cx="242.8" cy="288.4" r="3.5"/><circle cx="174.3" cy="307.9" r="3.5"/><circle cx="223.6" cy="299.1" r="3.5"/><circle cx="256.7" cy="286.0" r="3.5"/><circle cx="239.3" cy="295.0" r="3.5"/><circle cx="248.6" cy="294.8" r="3.5"/><circle cx="329.7" cy="288.2" r="3.5"/><circle cx="331.3" cy="279.3" r="3.5"/><circle cx="341.8" cy="258.4" r="3.5"/><circle cx="339.2" cy="264.6" r="3.5"/><circle cx="330.3" cy="257.1" r="3.5"/><circle cx="335.7" cy="269.1" r="3.5"/><circle cx="326.5" cy="279.6" r="3.5"/><circle cx="332.8" cy="256.8" r="3.5"/><circle cx="332.6" cy="278.8" r="3.5"/><circle cx="338.5" cy="265.1" r="3.5"/><circle cx="336.0" cy="254.5" r="3.5"/><circle cx="329.8" cy="278.3" r="3.5"/><circle cx="332.7" cy="282.1" r="3.5"/><circle cx="327.8" cy="259.6" r="3.5"/><circle cx="338.1" cy="268.3" r="3.5"/><circle cx="333.2" cy="272.3" r="3.5"/><circle cx="330.1" cy="266.4" r="3.5"/><circle cx="295.4" cy="279.9" r="3.5"/><circle cx="307.6" cy="273.0" r="3.5"/><circle cx="316.9" cy="263.8" r="3.5"/><circle cx="312.8" cy="279.5" r="3.5"/><circle cx="302.9" cy="275.2" r="3.5"/><circle cx="324.1" cy="260.7" r="3.5"/><circle cx="294.1" cy="281.0" r="3.5"/><circle cx="292.5" cy="272.3" r="3.5"/><circle cx="292.8" cy="269.3" r="3.5"/><circle cx="307.0" cy="268.2" r="3.5"/><circle cx="305.7" cy="280.1" r="3.5"/><circle cx="316.5" cy="272.1" r="3.5"/><circle cx="307.1" cy="261.5" r="3.5"/><circle cx="317.0" cy="264.2" r="3.5"/><circle cx="314.8" cy="261.8" r="3.5"/><circle cx="308.5" cy="274.4" r="3.5"/><circle cx="300.2" cy="269.4" r="3.5"/><circle cx="307.6" cy="277.0" r="3.5"/><circle cx="289.1" cy="280.2" r="3.5"/><circle cx="320.7" cy="256.5" r="3.5"/><circle cx="305.1" cy="262.5" r="3.5"/><circle cx="297.3" cy="268.8" r="3.5"/><circle cx="300.2" cy="278.7" r="3.5"/><circle cx="313.6" cy="278.4" r="3.5"/><circle cx="325.8" cy="261.3" r="3.5"/><circle cx="301.9" cy="282.9" r="3.5"/><circle cx="301.1" cy="264.4" r="3.5"/><circle cx="306.0" cy="268.2" r="3.5"/><circle cx="302.9" cy="278.1" r="3.5"/><circle cx="319.1" cy="269.3" r="3.5"/><circle cx="321.5" cy="267.2" r="3.5"/><circle cx="312.1" cy="271.8" r="3.5"/><circle cx="193.7" cy="328.7" r="3.5"/><circle cx="183.5" cy="328.1" r="3.5"/><circle cx="212.6" cy="312.6" r="3.5"/><circle cx="189.3" cy="338.6" r="3.5"/><circle cx="218.0" cy="310.4" r="3.5"/><circle cx="201.5" cy="330.5" r="3.5"/><circle cx="211.6" cy="325.3" r="3.5"/><circle cx="178.2" cy="319.8" r="3.5"/><circle cx="205.5" cy="333.7" r="3.5"/><circle cx="181.6" cy="330.9" r="3.5"/><circle cx="202.9" cy="331.4" r="3.5"/><circle cx="173.0" cy="324.4" r="3.5"/><circle cx="187.3" cy="329.4" r="3.5"/><circle cx="187.8" cy="314.2" r="3.5"/><circle cx="203.5" cy="319.3" r="3.5"/><circle cx="209.2" cy="319.9" r="3.5"/><circle cx="197.7" cy="336.3" r="3.5"/><circle cx="177.4" cy="333.8" r="3.5"/><circle cx="219.9" cy="344.6" r="3.5"/><circle cx="219.3" cy="336.8" r="3.5"/><circle cx="223.6" cy="316.6" r="3.5"/><circle cx="223.9" cy="328.5" r="3.5"/><circle cx="224.2" cy="314.5" r="3.5"/></g>
<polygon points="52.0,340.10 65.2,335.71 78.0,331.47 78.5,331.32 91.7,326.93 100.0,324.18 104.9,322.42 118.2,317.70 128.0,314.19 131.4,313.01 144.6,308.43 145.0,308.30 157.9,303.50 171.1,298.57 184.3,293.64 197.6,288.71 200.0,287.80 210.8,283.70 224.0,278.68 237.3,273.65 250.5,268.63 263.7,263.60 277.0,258.58 290.2,253.55 300.0,249.83 303.4,248.48 316.7,243.30 329.9,238.12 343.1,232.93 356.4,227.75 369.6,222.56 382.8,217.38 396.1,212.20 400.0,210.66 409.3,206.93 422.5,201.63 435.8,196.33 449.0,191.03 453.0,189.42 462.2,185.71 475.5,180.40 488.7,175.08 501.9,169.76 503.0,169.34 515.2,164.38 528.4,158.98 541.6,153.58 553.0,148.95 554.9,148.20 568.1,142.90 581.3,137.59 594.6,132.29 607.8,126.98 621.0,121.68 634.3,116.37 647.5,111.07 660.7,105.76 668.0,102.85 674.0,100.44 687.2,95.10 700.4,89.75 713.7,84.41 726.9,79.06 740.1,73.72 753.4,68.38 754.0,68.12 766.6,62.95 779.8,57.53 793.1,52.10 806.3,46.68 819.5,41.25 832.8,35.83 846.0,30.40 846.0,54.40 832.8,59.08 819.5,63.76 806.3,68.43 793.1,73.11 779.8,77.79 766.6,82.47 754.0,86.92 753.4,87.15 740.1,91.91 726.9,96.67 713.7,101.43 700.4,106.18 687.2,110.94 674.0,115.70 668.0,117.85 660.7,120.48 647.5,125.28 634.3,130.08 621.0,134.88 607.8,139.68 594.6,144.48 581.3,149.28 568.1,154.07 554.9,158.87 553.0,159.55 541.6,163.59 528.4,168.30 515.2,173.01 503.0,177.34 501.9,177.72 488.7,182.51 475.5,187.30 462.2,192.08 453.0,195.42 449.0,196.87 435.8,201.68 422.5,206.48 409.3,211.28 400.0,214.66 396.1,216.12 382.8,221.04 369.6,225.96 356.4,230.88 343.1,235.79 329.9,240.71 316.7,245.63 303.4,250.55 300.0,251.83 290.2,255.59 277.0,260.67 263.7,265.75 250.5,270.82 237.3,275.90 224.0,280.98 210.8,286.06 200.0,290.20 197.6,291.15 184.3,296.33 171.1,301.50 157.9,306.67 145.0,311.70 144.6,311.85 131.4,317.37 128.0,318.79 118.2,322.79 104.9,328.17 100.0,330.18 91.7,333.76 78.5,339.47 78.0,339.67 65.2,345.19 52.0,350.90" fill="#e24a33" fill-opacity="0.15"/>
<line x1="52" y1="345.50" x2="846" y2="42.40" stroke="#e24a33" stroke-width="2"/>
</g>
</svg>
</body></html>
